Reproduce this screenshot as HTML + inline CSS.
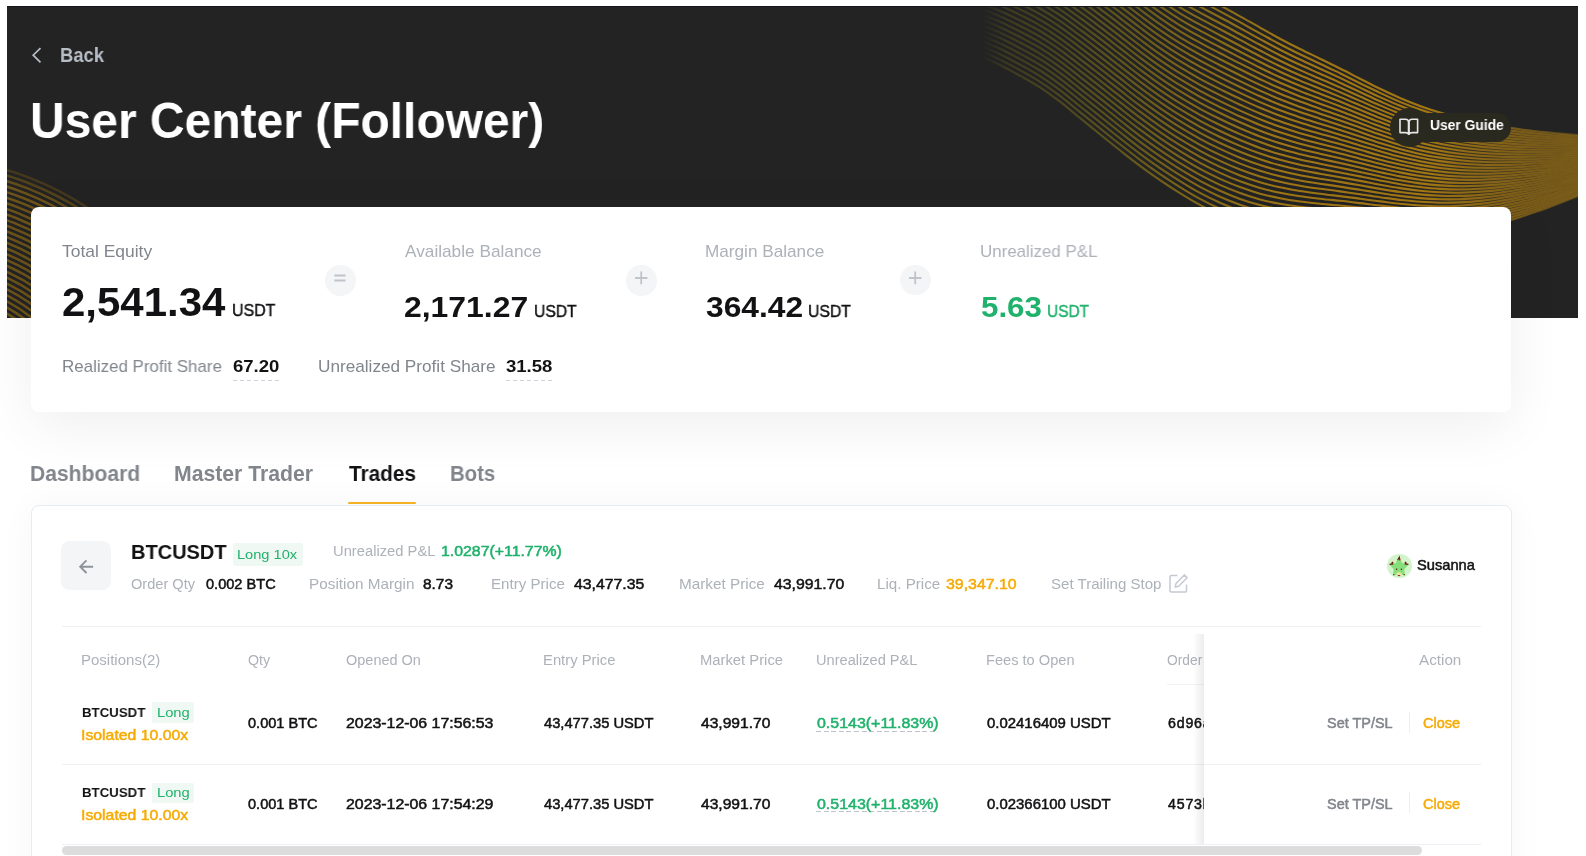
<!DOCTYPE html>
<html lang="en"><head><meta charset="utf-8"><title>User Center (Follower)</title>
<style>
html,body{margin:0;padding:0;background:#fff;}
body{width:1586px;height:856px;overflow:hidden;position:relative;font-family:"Liberation Sans",Arial,sans-serif;}
.t{position:absolute;line-height:1;white-space:nowrap;transform-origin:0 0;z-index:3;will-change:transform;}
.abs{position:absolute;}
#hdr{left:7px;top:6px;width:1571px;height:312px;background:#232323;overflow:hidden;}
#hdr .edge{position:absolute;left:0;top:0;width:100%;height:1px;background:#16161d;}
.card{position:absolute;left:31px;width:1480px;background:#fff;border-radius:8px;}
#card1{top:207px;height:205px;box-shadow:0 14px 56px rgba(0,0,0,0.065);}
#card2{top:505.2px;height:420px;width:1481px;box-shadow:0 0 36px rgba(0,0,0,0.04);border:1px solid #e7ebf2;border-top:1.6px solid #e7ebf2;box-sizing:border-box;}
.op{position:absolute;width:30.5px;height:30.5px;border-radius:50%;background:#f4f5f7;z-index:3;}
.op svg{position:absolute;left:0;top:0;}
.dash{position:absolute;height:1px;background:repeating-linear-gradient(90deg,#cfd4dc 0 4px,transparent 4px 7px);z-index:3;}
.tag{position:absolute;background:#eff8f2;border-radius:2px;z-index:2;}
.hl{position:absolute;height:1px;background:#eef0f4;z-index:2;}
</style></head><body>
<div id="hdr" class="abs">
<svg width="1571" height="312" viewBox="0 0 1571 312" style="position:absolute;left:0;top:0">
<defs>
<linearGradient id="rg" gradientUnits="userSpaceOnUse" x1="975" y1="0" x2="1571" y2="0">
<stop offset="0" stop-color="#6f6a1c" stop-opacity="0"/>
<stop offset="0.04" stop-color="#736c1b" stop-opacity="0.32"/>
<stop offset="0.2" stop-color="#857619" stop-opacity="0.55"/>
<stop offset="0.35" stop-color="#9a7a16" stop-opacity="0.78"/>
<stop offset="0.5" stop-color="#a87c14" stop-opacity="0.92"/>
<stop offset="0.75" stop-color="#b07f12" stop-opacity="0.9"/>
<stop offset="0.9" stop-color="#a07515" stop-opacity="0.62"/>
<stop offset="1" stop-color="#9a7215" stop-opacity="0.45"/>
</linearGradient>
<linearGradient id="rf" gradientUnits="userSpaceOnUse" x1="1380" y1="0" x2="1571" y2="0">
<stop offset="0" stop-color="#7a5c18" stop-opacity="0"/>
<stop offset="1" stop-color="#7a5c18" stop-opacity="0.55"/>
</linearGradient>
</defs>
<path d="M1373 82.8 L1378 85.2 L1383 87.5 L1388 89.8 L1393 92.0 L1398 94.1 L1403 96.1 L1408 98.1 L1413 99.9 L1418 101.7 L1423 103.4 L1428 105.0 L1433 106.5 L1438 108.0 L1443 109.4 L1448 110.7 L1453 112.0 L1458 113.2 L1463 114.4 L1468 115.5 L1473 116.5 L1478 117.5 L1483 118.5 L1488 119.4 L1493 120.3 L1498 121.1 L1503 121.8 L1508 122.6 L1513 123.3 L1518 123.9 L1523 124.6 L1528 125.2 L1533 125.7 L1538 126.2 L1543 126.7 L1548 127.2 L1553 127.6 L1558 128.1 L1563 128.4 L1568 128.8 L1573 129.1 L1578 129.4 L1583 129.7 L1588 130.0 L1588 183.1 L1583 185.1 L1578 187.2 L1573 189.2 L1568 191.2 L1563 193.2 L1558 195.2 L1553 197.1 L1548 199.0 L1543 200.9 L1538 202.7 L1533 204.5 L1528 206.2 L1523 208.0 L1518 209.6 L1513 211.2 L1508 212.8 L1503 214.3 L1498 215.7 L1493 217.1 L1488 218.4 L1483 219.7 L1478 220.9 L1473 222.0 L1468 223.0 L1463 224.0 L1458 224.9 L1453 225.7 L1448 226.4 L1443 227.0 L1438 227.5 L1433 228.0 L1428 228.3 L1423 228.6 L1418 228.8 L1413 229.0 L1408 229.1 L1403 229.1 L1398 229.2 L1393 229.1 L1388 229.1 L1383 229.0 L1378 228.9 L1373 228.7Z" fill="url(#rf)" stroke="none"/>
<g fill="none" stroke="url(#rg)" stroke-width="2.1">
<path d="M933.0 -139.1C936.3 -138.8 946.3 -138.1 953.0 -137.3C959.7 -136.5 966.3 -135.6 973.0 -134.4C979.7 -133.1 986.3 -131.7 993.0 -130.0C999.7 -128.3 1006.3 -126.2 1013.0 -123.9C1019.7 -121.5 1026.3 -118.9 1033.0 -115.9C1039.7 -112.9 1046.3 -109.6 1053.0 -106.0C1059.7 -102.4 1066.3 -98.4 1073.0 -94.1C1079.7 -89.9 1086.3 -85.4 1093.0 -80.7C1099.7 -76.0 1106.3 -71.0 1113.0 -66.0C1119.7 -61.0 1126.3 -55.7 1133.0 -50.7C1139.7 -45.7 1146.3 -40.5 1153.0 -35.8C1159.7 -31.2 1166.3 -26.8 1173.0 -22.7C1179.7 -18.6 1186.3 -15.0 1193.0 -11.4C1199.7 -7.7 1206.3 -4.3 1213.0 -0.7C1219.7 2.9 1226.3 6.6 1233.0 10.3C1239.7 14.0 1246.3 17.9 1253.0 21.6C1259.7 25.4 1266.3 29.2 1273.0 32.7C1279.7 36.3 1286.3 39.7 1293.0 43.0C1299.7 46.4 1306.3 49.4 1313.0 52.7C1319.7 55.9 1326.3 59.2 1333.0 62.5C1339.7 65.8 1346.3 69.3 1353.0 72.7C1359.7 76.1 1366.3 79.6 1373.0 82.8C1379.7 86.0 1386.3 89.1 1393.0 92.0C1399.7 94.9 1406.3 97.5 1413.0 99.9C1419.7 102.3 1426.3 104.5 1433.0 106.5C1439.7 108.5 1446.3 110.3 1453.0 112.0C1459.7 113.7 1466.3 115.2 1473.0 116.5C1479.7 117.9 1486.3 119.1 1493.0 120.3C1499.7 121.4 1506.3 122.4 1513.0 123.3C1519.7 124.2 1526.3 125.0 1533.0 125.7C1539.7 126.4 1546.3 127.1 1553.0 127.6C1559.7 128.2 1566.3 128.7 1573.0 129.1C1579.7 129.6 1586.3 129.9 1593.0 130.3C1599.7 130.6 1606.3 130.9 1613.0 131.2C1619.7 131.5 1629.7 131.9 1633.0 132.0"/>
<path d="M933.0 -134.0C936.3 -133.7 946.3 -132.9 953.0 -132.1C959.7 -131.3 966.3 -130.3 973.0 -129.1C979.7 -127.8 986.3 -126.4 993.0 -124.6C999.7 -122.8 1006.3 -120.7 1013.0 -118.4C1019.7 -116.0 1026.3 -113.3 1033.0 -110.3C1039.7 -107.3 1046.3 -103.9 1053.0 -100.2C1059.7 -96.6 1066.3 -92.5 1073.0 -88.3C1079.7 -84.0 1086.3 -79.4 1093.0 -74.7C1099.7 -70.0 1106.3 -65.0 1113.0 -60.0C1119.7 -55.0 1126.3 -49.7 1133.0 -44.7C1139.7 -39.6 1146.3 -34.5 1153.0 -29.8C1159.7 -25.2 1166.3 -20.8 1173.0 -16.7C1179.7 -12.6 1186.3 -9.0 1193.0 -5.4C1199.7 -1.7 1206.3 1.7 1213.0 5.3C1219.7 8.9 1226.3 12.5 1233.0 16.2C1239.7 19.9 1246.3 23.7 1253.0 27.4C1259.7 31.0 1266.3 34.7 1273.0 38.2C1279.7 41.7 1286.3 45.0 1293.0 48.3C1299.7 51.5 1306.3 54.5 1313.0 57.7C1319.7 60.8 1326.3 64.0 1333.0 67.2C1339.7 70.5 1346.3 73.9 1353.0 77.2C1359.7 80.4 1366.3 83.8 1373.0 86.9C1379.7 90.1 1386.3 93.1 1393.0 95.9C1399.7 98.7 1406.3 101.2 1413.0 103.6C1419.7 105.9 1426.3 108.0 1433.0 110.0C1439.7 111.9 1446.3 113.7 1453.0 115.2C1459.7 116.8 1466.3 118.3 1473.0 119.6C1479.7 120.8 1486.3 122.0 1493.0 123.0C1499.7 124.1 1506.3 125.0 1513.0 125.8C1519.7 126.6 1526.3 127.3 1533.0 128.0C1539.7 128.6 1546.3 129.1 1553.0 129.6C1559.7 130.1 1566.3 130.5 1573.0 130.8C1579.7 131.2 1586.3 131.5 1593.0 131.7C1599.7 132.0 1606.3 132.2 1613.0 132.4C1619.7 132.6 1629.7 132.8 1633.0 132.9"/>
<path d="M933.0 -129.0C936.3 -128.6 946.3 -127.8 953.0 -127.0C959.7 -126.1 966.3 -125.1 973.0 -123.8C979.7 -122.5 986.3 -121.0 993.0 -119.2C999.7 -117.4 1006.3 -115.3 1013.0 -112.8C1019.7 -110.4 1026.3 -107.7 1033.0 -104.6C1039.7 -101.6 1046.3 -98.2 1053.0 -94.5C1059.7 -90.8 1066.3 -86.7 1073.0 -82.4C1079.7 -78.1 1086.3 -73.5 1093.0 -68.7C1099.7 -64.0 1106.3 -59.0 1113.0 -54.0C1119.7 -49.0 1126.3 -43.7 1133.0 -38.6C1139.7 -33.6 1146.3 -28.5 1153.0 -23.8C1159.7 -19.2 1166.3 -14.8 1173.0 -10.7C1179.7 -6.6 1186.3 -3.0 1193.0 0.7C1199.7 4.3 1206.3 7.7 1213.0 11.3C1219.7 14.8 1226.3 18.5 1233.0 22.1C1239.7 25.7 1246.3 29.5 1253.0 33.1C1259.7 36.7 1266.3 40.3 1273.0 43.7C1279.7 47.1 1286.3 50.4 1293.0 53.5C1299.7 56.7 1306.3 59.6 1313.0 62.7C1319.7 65.8 1326.3 68.8 1333.0 71.9C1339.7 75.1 1346.3 78.4 1353.0 81.6C1359.7 84.8 1366.3 88.1 1373.0 91.1C1379.7 94.1 1386.3 97.1 1393.0 99.8C1399.7 102.5 1406.3 105.0 1413.0 107.3C1419.7 109.5 1426.3 111.6 1433.0 113.5C1439.7 115.3 1446.3 117.0 1453.0 118.5C1459.7 120.0 1466.3 121.3 1473.0 122.6C1479.7 123.8 1486.3 124.8 1493.0 125.8C1499.7 126.8 1506.3 127.6 1513.0 128.3C1519.7 129.0 1526.3 129.7 1533.0 130.2C1539.7 130.8 1546.3 131.2 1553.0 131.6C1559.7 132.0 1566.3 132.3 1573.0 132.6C1579.7 132.8 1586.3 133.0 1593.0 133.2C1599.7 133.3 1606.3 133.5 1613.0 133.6C1619.7 133.7 1629.7 133.8 1633.0 133.8"/>
<path d="M933.0 -123.9C936.3 -123.6 946.3 -122.7 953.0 -121.8C959.7 -120.9 966.3 -119.9 973.0 -118.6C979.7 -117.2 986.3 -115.7 993.0 -113.8C999.7 -111.9 1006.3 -109.8 1013.0 -107.3C1019.7 -104.8 1026.3 -102.1 1033.0 -99.0C1039.7 -95.9 1046.3 -92.5 1053.0 -88.7C1059.7 -85.0 1066.3 -80.8 1073.0 -76.5C1079.7 -72.1 1086.3 -67.5 1093.0 -62.8C1099.7 -58.0 1106.3 -53.0 1113.0 -48.0C1119.7 -43.0 1126.3 -37.7 1133.0 -32.6C1139.7 -27.6 1146.3 -22.5 1153.0 -17.8C1159.7 -13.2 1166.3 -8.8 1173.0 -4.7C1179.7 -0.6 1186.3 3.0 1193.0 6.7C1199.7 10.3 1206.3 13.7 1213.0 17.3C1219.7 20.8 1226.3 24.4 1233.0 28.0C1239.7 31.6 1246.3 35.3 1253.0 38.8C1259.7 42.4 1266.3 45.9 1273.0 49.2C1279.7 52.6 1286.3 55.7 1293.0 58.8C1299.7 61.9 1306.3 64.7 1313.0 67.7C1319.7 70.7 1326.3 73.6 1333.0 76.7C1339.7 79.7 1346.3 82.9 1353.0 86.0C1359.7 89.1 1366.3 92.3 1373.0 95.3C1379.7 98.2 1386.3 101.1 1393.0 103.8C1399.7 106.4 1406.3 108.8 1413.0 111.0C1419.7 113.2 1426.3 115.1 1433.0 116.9C1439.7 118.7 1446.3 120.3 1453.0 121.7C1459.7 123.2 1466.3 124.4 1473.0 125.6C1479.7 126.7 1486.3 127.7 1493.0 128.6C1499.7 129.4 1506.3 130.2 1513.0 130.8C1519.7 131.5 1526.3 132.0 1533.0 132.5C1539.7 132.9 1546.3 133.3 1553.0 133.6C1559.7 133.9 1566.3 134.1 1573.0 134.3C1579.7 134.5 1586.3 134.5 1593.0 134.6C1599.7 134.7 1606.3 134.7 1613.0 134.7C1619.7 134.8 1629.7 134.7 1633.0 134.7"/>
<path d="M933.0 -118.8C936.3 -118.5 946.3 -117.6 953.0 -116.6C959.7 -115.7 966.3 -114.7 973.0 -113.3C979.7 -111.9 986.3 -110.3 993.0 -108.4C999.7 -106.5 1006.3 -104.3 1013.0 -101.8C1019.7 -99.3 1026.3 -96.5 1033.0 -93.4C1039.7 -90.2 1046.3 -86.8 1053.0 -83.0C1059.7 -79.2 1066.3 -74.9 1073.0 -70.6C1079.7 -66.2 1086.3 -61.6 1093.0 -56.8C1099.7 -52.0 1106.3 -47.0 1113.0 -42.0C1119.7 -36.9 1126.3 -31.6 1133.0 -26.6C1139.7 -21.6 1146.3 -16.5 1153.0 -11.9C1159.7 -7.2 1166.3 -2.8 1173.0 1.3C1179.7 5.4 1186.3 9.0 1193.0 12.7C1199.7 16.3 1206.3 19.7 1213.0 23.2C1219.7 26.8 1226.3 30.3 1233.0 33.9C1239.7 37.4 1246.3 41.1 1253.0 44.5C1259.7 48.0 1266.3 51.5 1273.0 54.7C1279.7 58.0 1286.3 61.1 1293.0 64.1C1299.7 67.1 1306.3 69.8 1313.0 72.7C1319.7 75.6 1326.3 78.4 1333.0 81.4C1339.7 84.4 1346.3 87.5 1353.0 90.5C1359.7 93.5 1366.3 96.6 1373.0 99.4C1379.7 102.3 1386.3 105.1 1393.0 107.7C1399.7 110.2 1406.3 112.5 1413.0 114.7C1419.7 116.8 1426.3 118.7 1433.0 120.4C1439.7 122.1 1446.3 123.6 1453.0 125.0C1459.7 126.4 1466.3 127.5 1473.0 128.6C1479.7 129.6 1486.3 130.5 1493.0 131.3C1499.7 132.1 1506.3 132.8 1513.0 133.3C1519.7 133.9 1526.3 134.3 1533.0 134.7C1539.7 135.1 1546.3 135.4 1553.0 135.6C1559.7 135.8 1566.3 135.9 1573.0 136.0C1579.7 136.1 1586.3 136.1 1593.0 136.1C1599.7 136.1 1606.3 136.0 1613.0 135.9C1619.7 135.9 1629.7 135.7 1633.0 135.7"/>
<path d="M933.0 -113.8C936.3 -113.4 946.3 -112.4 953.0 -111.5C959.7 -110.5 966.3 -109.4 973.0 -108.0C979.7 -106.6 986.3 -105.0 993.0 -103.0C999.7 -101.0 1006.3 -98.8 1013.0 -96.2C1019.7 -93.7 1026.3 -90.9 1033.0 -87.7C1039.7 -84.6 1046.3 -81.0 1053.0 -77.2C1059.7 -73.4 1066.3 -69.1 1073.0 -64.7C1079.7 -60.3 1086.3 -55.6 1093.0 -50.8C1099.7 -46.0 1106.3 -41.0 1113.0 -36.0C1119.7 -30.9 1126.3 -25.6 1133.0 -20.6C1139.7 -15.6 1146.3 -10.5 1153.0 -5.9C1159.7 -1.2 1166.3 3.2 1173.0 7.3C1179.7 11.4 1186.3 15.0 1193.0 18.7C1199.7 22.3 1206.3 25.7 1213.0 29.2C1219.7 32.7 1226.3 36.3 1233.0 39.8C1239.7 43.3 1246.3 46.9 1253.0 50.3C1259.7 53.7 1266.3 57.1 1273.0 60.2C1279.7 63.4 1286.3 66.4 1293.0 69.3C1299.7 72.2 1306.3 74.9 1313.0 77.7C1319.7 80.5 1326.3 83.3 1333.0 86.1C1339.7 89.0 1346.3 92.0 1353.0 94.9C1359.7 97.8 1366.3 100.8 1373.0 103.6C1379.7 106.4 1386.3 109.1 1393.0 111.6C1399.7 114.0 1406.3 116.3 1413.0 118.3C1419.7 120.4 1426.3 122.2 1433.0 123.9C1439.7 125.5 1446.3 126.9 1453.0 128.2C1459.7 129.5 1466.3 130.6 1473.0 131.6C1479.7 132.6 1486.3 133.4 1493.0 134.1C1499.7 134.8 1506.3 135.4 1513.0 135.8C1519.7 136.3 1526.3 136.7 1533.0 137.0C1539.7 137.3 1546.3 137.4 1553.0 137.6C1559.7 137.7 1566.3 137.7 1573.0 137.7C1579.7 137.7 1586.3 137.6 1593.0 137.5C1599.7 137.4 1606.3 137.3 1613.0 137.1C1619.7 136.9 1629.7 136.7 1633.0 136.6"/>
<path d="M933.0 -108.7C936.3 -108.3 946.3 -107.3 953.0 -106.3C959.7 -105.3 966.3 -104.2 973.0 -102.8C979.7 -101.3 986.3 -99.6 993.0 -97.6C999.7 -95.6 1006.3 -93.3 1013.0 -90.7C1019.7 -88.1 1026.3 -85.3 1033.0 -82.1C1039.7 -78.9 1046.3 -75.3 1053.0 -71.4C1059.7 -67.5 1066.3 -63.2 1073.0 -58.8C1079.7 -54.4 1086.3 -49.7 1093.0 -44.9C1099.7 -40.1 1106.3 -35.0 1113.0 -29.9C1119.7 -24.9 1126.3 -19.6 1133.0 -14.6C1139.7 -9.6 1146.3 -4.5 1153.0 0.1C1159.7 4.8 1166.3 9.2 1173.0 13.3C1179.7 17.4 1186.3 21.0 1193.0 24.7C1199.7 28.3 1206.3 31.7 1213.0 35.2C1219.7 38.7 1226.3 42.2 1233.0 45.7C1239.7 49.1 1246.3 52.6 1253.0 56.0C1259.7 59.3 1266.3 62.7 1273.0 65.7C1279.7 68.8 1286.3 71.8 1293.0 74.6C1299.7 77.4 1306.3 80.0 1313.0 82.7C1319.7 85.4 1326.3 88.1 1333.0 90.9C1339.7 93.6 1346.3 96.5 1353.0 99.4C1359.7 102.2 1366.3 105.1 1373.0 107.8C1379.7 110.5 1386.3 113.1 1393.0 115.5C1399.7 117.9 1406.3 120.1 1413.0 122.0C1419.7 124.0 1426.3 125.8 1433.0 127.3C1439.7 128.9 1446.3 130.3 1453.0 131.5C1459.7 132.7 1466.3 133.7 1473.0 134.6C1479.7 135.5 1486.3 136.2 1493.0 136.9C1499.7 137.5 1506.3 138.0 1513.0 138.4C1519.7 138.8 1526.3 139.0 1533.0 139.2C1539.7 139.4 1546.3 139.5 1553.0 139.5C1559.7 139.6 1566.3 139.5 1573.0 139.4C1579.7 139.3 1586.3 139.2 1593.0 139.0C1599.7 138.8 1606.3 138.5 1613.0 138.3C1619.7 138.0 1629.7 137.6 1633.0 137.5"/>
<path d="M933.0 -103.6C936.3 -103.2 946.3 -102.2 953.0 -101.1C959.7 -100.1 966.3 -99.0 973.0 -97.5C979.7 -96.0 986.3 -94.3 993.0 -92.2C999.7 -90.2 1006.3 -87.8 1013.0 -85.2C1019.7 -82.5 1026.3 -79.7 1033.0 -76.5C1039.7 -73.2 1046.3 -69.6 1053.0 -65.7C1059.7 -61.7 1066.3 -57.4 1073.0 -52.9C1079.7 -48.5 1086.3 -43.7 1093.0 -38.9C1099.7 -34.1 1106.3 -29.0 1113.0 -23.9C1119.7 -18.9 1126.3 -13.6 1133.0 -8.6C1139.7 -3.6 1146.3 1.5 1153.0 6.1C1159.7 10.8 1166.3 15.2 1173.0 19.3C1179.7 23.4 1186.3 27.0 1193.0 30.7C1199.7 34.4 1206.3 37.7 1213.0 41.2C1219.7 44.7 1226.3 48.1 1233.0 51.6C1239.7 55.0 1246.3 58.4 1253.0 61.7C1259.7 65.0 1266.3 68.2 1273.0 71.3C1279.7 74.3 1286.3 77.1 1293.0 79.8C1299.7 82.6 1306.3 85.1 1313.0 87.7C1319.7 90.3 1326.3 92.9 1333.0 95.6C1339.7 98.3 1346.3 101.1 1353.0 103.8C1359.7 106.5 1366.3 109.4 1373.0 112.0C1379.7 114.6 1386.3 117.1 1393.0 119.4C1399.7 121.7 1406.3 123.8 1413.0 125.7C1419.7 127.6 1426.3 129.3 1433.0 130.8C1439.7 132.3 1446.3 133.6 1453.0 134.7C1459.7 135.9 1466.3 136.8 1473.0 137.6C1479.7 138.4 1486.3 139.1 1493.0 139.6C1499.7 140.2 1506.3 140.6 1513.0 140.9C1519.7 141.2 1526.3 141.4 1533.0 141.5C1539.7 141.6 1546.3 141.6 1553.0 141.5C1559.7 141.5 1566.3 141.3 1573.0 141.1C1579.7 141.0 1586.3 140.7 1593.0 140.4C1599.7 140.1 1606.3 139.8 1613.0 139.5C1619.7 139.1 1629.7 138.6 1633.0 138.4"/>
<path d="M933.0 -98.6C936.3 -98.1 946.3 -97.0 953.0 -96.0C959.7 -94.9 966.3 -93.7 973.0 -92.2C979.7 -90.7 986.3 -88.9 993.0 -86.8C999.7 -84.7 1006.3 -82.3 1013.0 -79.6C1019.7 -77.0 1026.3 -74.1 1033.0 -70.8C1039.7 -67.5 1046.3 -63.9 1053.0 -59.9C1059.7 -55.9 1066.3 -51.5 1073.0 -47.0C1079.7 -42.5 1086.3 -37.8 1093.0 -32.9C1099.7 -28.1 1106.3 -23.0 1113.0 -17.9C1119.7 -12.9 1126.3 -7.6 1133.0 -2.6C1139.7 2.4 1146.3 7.5 1153.0 12.1C1159.7 16.8 1166.3 21.2 1173.0 25.3C1179.7 29.3 1186.3 33.0 1193.0 36.7C1199.7 40.4 1206.3 43.7 1213.0 47.2C1219.7 50.6 1226.3 54.1 1233.0 57.4C1239.7 60.8 1246.3 64.2 1253.0 67.4C1259.7 70.7 1266.3 73.8 1273.0 76.8C1279.7 79.7 1286.3 82.4 1293.0 85.1C1299.7 87.8 1306.3 90.2 1313.0 92.7C1319.7 95.2 1326.3 97.7 1333.0 100.3C1339.7 102.9 1346.3 105.6 1353.0 108.3C1359.7 110.9 1366.3 113.6 1373.0 116.1C1379.7 118.6 1386.3 121.1 1393.0 123.3C1399.7 125.6 1406.3 127.6 1413.0 129.4C1419.7 131.2 1426.3 132.8 1433.0 134.3C1439.7 135.7 1446.3 136.9 1453.0 138.0C1459.7 139.0 1466.3 139.9 1473.0 140.6C1479.7 141.4 1486.3 141.9 1493.0 142.4C1499.7 142.9 1506.3 143.2 1513.0 143.4C1519.7 143.6 1526.3 143.7 1533.0 143.7C1539.7 143.7 1546.3 143.7 1553.0 143.5C1559.7 143.4 1566.3 143.1 1573.0 142.9C1579.7 142.6 1586.3 142.2 1593.0 141.9C1599.7 141.5 1606.3 141.1 1613.0 140.6C1619.7 140.2 1629.7 139.5 1633.0 139.3"/>
<path d="M933.0 -93.5C936.3 -93.1 946.3 -91.9 953.0 -90.8C959.7 -89.7 966.3 -88.5 973.0 -87.0C979.7 -85.4 986.3 -83.5 993.0 -81.4C999.7 -79.3 1006.3 -76.8 1013.0 -74.1C1019.7 -71.4 1026.3 -68.5 1033.0 -65.2C1039.7 -61.9 1046.3 -58.2 1053.0 -54.1C1059.7 -50.1 1066.3 -45.7 1073.0 -41.1C1079.7 -36.6 1086.3 -31.8 1093.0 -27.0C1099.7 -22.1 1106.3 -17.0 1113.0 -11.9C1119.7 -6.9 1126.3 -1.6 1133.0 3.5C1139.7 8.5 1146.3 13.5 1153.0 18.1C1159.7 22.8 1166.3 27.2 1173.0 31.3C1179.7 35.3 1186.3 39.1 1193.0 42.7C1199.7 46.4 1206.3 49.7 1213.0 53.2C1219.7 56.6 1226.3 60.0 1233.0 63.3C1239.7 66.7 1246.3 70.0 1253.0 73.2C1259.7 76.3 1266.3 79.4 1273.0 82.3C1279.7 85.1 1286.3 87.8 1293.0 90.4C1299.7 92.9 1306.3 95.2 1313.0 97.7C1319.7 100.1 1326.3 102.5 1333.0 105.0C1339.7 107.5 1346.3 110.2 1353.0 112.7C1359.7 115.2 1366.3 117.9 1373.0 120.3C1379.7 122.7 1386.3 125.1 1393.0 127.3C1399.7 129.4 1406.3 131.3 1413.0 133.1C1419.7 134.8 1426.3 136.4 1433.0 137.7C1439.7 139.1 1446.3 140.2 1453.0 141.2C1459.7 142.2 1466.3 143.0 1473.0 143.7C1479.7 144.3 1486.3 144.8 1493.0 145.2C1499.7 145.5 1506.3 145.8 1513.0 145.9C1519.7 146.0 1526.3 146.0 1533.0 146.0C1539.7 145.9 1546.3 145.7 1553.0 145.5C1559.7 145.3 1566.3 144.9 1573.0 144.6C1579.7 144.2 1586.3 143.8 1593.0 143.3C1599.7 142.9 1606.3 142.3 1613.0 141.8C1619.7 141.3 1629.7 140.5 1633.0 140.2"/>
<path d="M933.0 -88.4C936.3 -88.0 946.3 -86.8 953.0 -85.7C959.7 -84.5 966.3 -83.3 973.0 -81.7C979.7 -80.1 986.3 -78.2 993.0 -76.0C999.7 -73.8 1006.3 -71.3 1013.0 -68.6C1019.7 -65.8 1026.3 -62.9 1033.0 -59.5C1039.7 -56.2 1046.3 -52.4 1053.0 -48.4C1059.7 -44.3 1066.3 -39.8 1073.0 -35.2C1079.7 -30.7 1086.3 -25.9 1093.0 -21.0C1099.7 -16.1 1106.3 -11.0 1113.0 -5.9C1119.7 -0.8 1126.3 4.5 1133.0 9.5C1139.7 14.5 1146.3 19.5 1153.0 24.1C1159.7 28.8 1166.3 33.1 1173.0 37.2C1179.7 41.3 1186.3 45.1 1193.0 48.7C1199.7 52.4 1206.3 55.7 1213.0 59.2C1219.7 62.6 1226.3 65.9 1233.0 69.2C1239.7 72.5 1246.3 75.8 1253.0 78.9C1259.7 82.0 1266.3 85.0 1273.0 87.8C1279.7 90.6 1286.3 93.1 1293.0 95.6C1299.7 98.1 1306.3 100.3 1313.0 102.7C1319.7 105.1 1326.3 107.3 1333.0 109.8C1339.7 112.2 1346.3 114.7 1353.0 117.1C1359.7 119.6 1366.3 122.1 1373.0 124.5C1379.7 126.8 1386.3 129.1 1393.0 131.2C1399.7 133.2 1406.3 135.1 1413.0 136.8C1419.7 138.5 1426.3 139.9 1433.0 141.2C1439.7 142.5 1446.3 143.6 1453.0 144.5C1459.7 145.4 1466.3 146.1 1473.0 146.7C1479.7 147.2 1486.3 147.6 1493.0 147.9C1499.7 148.2 1506.3 148.4 1513.0 148.4C1519.7 148.5 1526.3 148.4 1533.0 148.2C1539.7 148.1 1546.3 147.8 1553.0 147.5C1559.7 147.2 1566.3 146.7 1573.0 146.3C1579.7 145.8 1586.3 145.3 1593.0 144.8C1599.7 144.2 1606.3 143.6 1613.0 143.0C1619.7 142.4 1629.7 141.5 1633.0 141.1"/>
<path d="M933.0 -83.4C936.3 -82.9 946.3 -81.7 953.0 -80.5C959.7 -79.3 966.3 -78.1 973.0 -76.4C979.7 -74.8 986.3 -72.8 993.0 -70.6C999.7 -68.4 1006.3 -65.8 1013.0 -63.0C1019.7 -60.3 1026.3 -57.3 1033.0 -53.9C1039.7 -50.5 1046.3 -46.7 1053.0 -42.6C1059.7 -38.5 1066.3 -34.0 1073.0 -29.4C1079.7 -24.8 1086.3 -19.9 1093.0 -15.0C1099.7 -10.1 1106.3 -5.0 1113.0 0.1C1119.7 5.2 1126.3 10.5 1133.0 15.5C1139.7 20.5 1146.3 25.5 1153.0 30.1C1159.7 34.8 1166.3 39.1 1173.0 43.2C1179.7 47.3 1186.3 51.1 1193.0 54.7C1199.7 58.4 1206.3 61.7 1213.0 65.1C1219.7 68.5 1226.3 71.9 1233.0 75.1C1239.7 78.4 1246.3 81.6 1253.0 84.6C1259.7 87.6 1266.3 90.6 1273.0 93.3C1279.7 96.0 1286.3 98.5 1293.0 100.9C1299.7 103.3 1306.3 105.4 1313.0 107.7C1319.7 110.0 1326.3 112.2 1333.0 114.5C1339.7 116.8 1346.3 119.2 1353.0 121.6C1359.7 123.9 1366.3 126.4 1373.0 128.6C1379.7 130.9 1386.3 133.1 1393.0 135.1C1399.7 137.1 1406.3 138.9 1413.0 140.5C1419.7 142.1 1426.3 143.5 1433.0 144.7C1439.7 145.9 1446.3 146.9 1453.0 147.7C1459.7 148.6 1466.3 149.2 1473.0 149.7C1479.7 150.2 1486.3 150.5 1493.0 150.7C1499.7 150.9 1506.3 151.0 1513.0 150.9C1519.7 150.9 1526.3 150.7 1533.0 150.5C1539.7 150.2 1546.3 149.9 1553.0 149.5C1559.7 149.1 1566.3 148.6 1573.0 148.0C1579.7 147.5 1586.3 146.8 1593.0 146.2C1599.7 145.6 1606.3 144.9 1613.0 144.2C1619.7 143.5 1629.7 142.4 1633.0 142.1"/>
<path d="M933.0 -78.3C936.3 -77.8 946.3 -76.5 953.0 -75.3C959.7 -74.1 966.3 -72.8 973.0 -71.2C979.7 -69.5 986.3 -67.5 993.0 -65.2C999.7 -62.9 1006.3 -60.3 1013.0 -57.5C1019.7 -54.7 1026.3 -51.7 1033.0 -48.3C1039.7 -44.8 1046.3 -41.0 1053.0 -36.9C1059.7 -32.7 1066.3 -28.1 1073.0 -23.5C1079.7 -18.8 1086.3 -14.0 1093.0 -9.1C1099.7 -4.1 1106.3 1.0 1113.0 6.1C1119.7 11.2 1126.3 16.5 1133.0 21.5C1139.7 26.5 1146.3 31.5 1153.0 36.1C1159.7 40.8 1166.3 45.1 1173.0 49.2C1179.7 53.3 1186.3 57.1 1193.0 60.7C1199.7 64.4 1206.3 67.7 1213.0 71.1C1219.7 74.5 1226.3 77.8 1233.0 81.0C1239.7 84.2 1246.3 87.4 1253.0 90.3C1259.7 93.3 1266.3 96.1 1273.0 98.8C1279.7 101.4 1286.3 103.8 1293.0 106.1C1299.7 108.4 1306.3 110.5 1313.0 112.7C1319.7 114.9 1326.3 117.0 1333.0 119.2C1339.7 121.4 1346.3 123.8 1353.0 126.0C1359.7 128.3 1366.3 130.6 1373.0 132.8C1379.7 135.0 1386.3 137.1 1393.0 139.0C1399.7 140.9 1406.3 142.6 1413.0 144.2C1419.7 145.7 1426.3 147.0 1433.0 148.2C1439.7 149.3 1446.3 150.2 1453.0 151.0C1459.7 151.7 1466.3 152.3 1473.0 152.7C1479.7 153.1 1486.3 153.3 1493.0 153.5C1499.7 153.6 1506.3 153.6 1513.0 153.4C1519.7 153.3 1526.3 153.1 1533.0 152.7C1539.7 152.4 1546.3 152.0 1553.0 151.5C1559.7 151.0 1566.3 150.4 1573.0 149.7C1579.7 149.1 1586.3 148.4 1593.0 147.7C1599.7 146.9 1606.3 146.2 1613.0 145.4C1619.7 144.6 1629.7 143.4 1633.0 143.0"/>
<path d="M933.0 -73.2C936.3 -72.7 946.3 -71.4 953.0 -70.2C959.7 -69.0 966.3 -67.6 973.0 -65.9C979.7 -64.2 986.3 -62.1 993.0 -59.8C999.7 -57.5 1006.3 -54.8 1013.0 -52.0C1019.7 -49.1 1026.3 -46.1 1033.0 -42.6C1039.7 -39.1 1046.3 -35.3 1053.0 -31.1C1059.7 -26.9 1066.3 -22.2 1073.0 -17.6C1079.7 -12.9 1086.3 -8.1 1093.0 -3.1C1099.7 1.8 1106.3 7.0 1113.0 12.1C1119.7 17.2 1126.3 22.5 1133.0 27.5C1139.7 32.5 1146.3 37.5 1153.0 42.1C1159.7 46.7 1166.3 51.1 1173.0 55.2C1179.7 59.3 1186.3 63.1 1193.0 66.7C1199.7 70.4 1206.3 73.8 1213.0 77.1C1219.7 80.5 1226.3 83.7 1233.0 86.9C1239.7 90.1 1246.3 93.2 1253.0 96.1C1259.7 99.0 1266.3 101.7 1273.0 104.3C1279.7 106.8 1286.3 109.1 1293.0 111.4C1299.7 113.6 1306.3 115.6 1313.0 117.7C1319.7 119.8 1326.3 121.8 1333.0 123.9C1339.7 126.1 1346.3 128.3 1353.0 130.5C1359.7 132.6 1366.3 134.9 1373.0 137.0C1379.7 139.1 1386.3 141.1 1393.0 142.9C1399.7 144.7 1406.3 146.4 1413.0 147.9C1419.7 149.3 1426.3 150.6 1433.0 151.6C1439.7 152.7 1446.3 153.5 1453.0 154.2C1459.7 154.9 1466.3 155.4 1473.0 155.7C1479.7 156.0 1486.3 156.2 1493.0 156.2C1499.7 156.3 1506.3 156.2 1513.0 155.9C1519.7 155.7 1526.3 155.4 1533.0 155.0C1539.7 154.6 1546.3 154.0 1553.0 153.4C1559.7 152.8 1566.3 152.2 1573.0 151.4C1579.7 150.7 1586.3 149.9 1593.0 149.1C1599.7 148.3 1606.3 147.4 1613.0 146.6C1619.7 145.7 1629.7 144.3 1633.0 143.9"/>
<path d="M933.0 -68.2C936.3 -67.6 946.3 -66.3 953.0 -65.0C959.7 -63.8 966.3 -62.4 973.0 -60.6C979.7 -58.9 986.3 -56.8 993.0 -54.4C999.7 -52.0 1006.3 -49.3 1013.0 -46.4C1019.7 -43.5 1026.3 -40.5 1033.0 -37.0C1039.7 -33.5 1046.3 -29.6 1053.0 -25.3C1059.7 -21.1 1066.3 -16.4 1073.0 -11.7C1079.7 -7.0 1086.3 -2.1 1093.0 2.9C1099.7 7.8 1106.3 13.0 1113.0 18.1C1119.7 23.2 1126.3 28.5 1133.0 33.5C1139.7 38.5 1146.3 43.5 1153.0 48.1C1159.7 52.7 1166.3 57.1 1173.0 61.2C1179.7 65.3 1186.3 69.1 1193.0 72.8C1199.7 76.4 1206.3 79.8 1213.0 83.1C1219.7 86.4 1226.3 89.7 1233.0 92.8C1239.7 95.9 1246.3 99.0 1253.0 101.8C1259.7 104.6 1266.3 107.3 1273.0 109.8C1279.7 112.3 1286.3 114.5 1293.0 116.6C1299.7 118.8 1306.3 120.7 1313.0 122.7C1319.7 124.7 1326.3 126.6 1333.0 128.7C1339.7 130.7 1346.3 132.8 1353.0 134.9C1359.7 137.0 1366.3 139.2 1373.0 141.2C1379.7 143.1 1386.3 145.1 1393.0 146.8C1399.7 148.6 1406.3 150.2 1413.0 151.5C1419.7 152.9 1426.3 154.1 1433.0 155.1C1439.7 156.1 1446.3 156.9 1453.0 157.5C1459.7 158.1 1466.3 158.5 1473.0 158.7C1479.7 159.0 1486.3 159.0 1493.0 159.0C1499.7 159.0 1506.3 158.8 1513.0 158.5C1519.7 158.2 1526.3 157.7 1533.0 157.2C1539.7 156.7 1546.3 156.1 1553.0 155.4C1559.7 154.7 1566.3 154.0 1573.0 153.2C1579.7 152.3 1586.3 151.5 1593.0 150.6C1599.7 149.7 1606.3 148.7 1613.0 147.7C1619.7 146.8 1629.7 145.3 1633.0 144.8"/>
<path d="M933.0 -63.1C936.3 -62.5 946.3 -61.1 953.0 -59.9C959.7 -58.6 966.3 -57.2 973.0 -55.3C979.7 -53.5 986.3 -51.4 993.0 -49.0C999.7 -46.6 1006.3 -43.9 1013.0 -40.9C1019.7 -38.0 1026.3 -34.9 1033.0 -31.4C1039.7 -27.8 1046.3 -23.8 1053.0 -19.6C1059.7 -15.3 1066.3 -10.5 1073.0 -5.8C1079.7 -1.1 1086.3 3.8 1093.0 8.8C1099.7 13.8 1106.3 19.0 1113.0 24.1C1119.7 29.3 1126.3 34.5 1133.0 39.5C1139.7 44.5 1146.3 49.5 1153.0 54.1C1159.7 58.7 1166.3 63.1 1173.0 67.2C1179.7 71.3 1186.3 75.1 1193.0 78.8C1199.7 82.4 1206.3 85.8 1213.0 89.1C1219.7 92.4 1226.3 95.6 1233.0 98.7C1239.7 101.7 1246.3 104.7 1253.0 107.5C1259.7 110.3 1266.3 112.9 1273.0 115.3C1279.7 117.7 1286.3 119.8 1293.0 121.9C1299.7 124.0 1306.3 125.8 1313.0 127.7C1319.7 129.6 1326.3 131.4 1333.0 133.4C1339.7 135.3 1346.3 137.4 1353.0 139.4C1359.7 141.3 1366.3 143.4 1373.0 145.3C1379.7 147.2 1386.3 149.1 1393.0 150.8C1399.7 152.4 1406.3 153.9 1413.0 155.2C1419.7 156.5 1426.3 157.6 1433.0 158.6C1439.7 159.5 1446.3 160.2 1453.0 160.7C1459.7 161.2 1466.3 161.6 1473.0 161.7C1479.7 161.9 1486.3 161.9 1493.0 161.8C1499.7 161.6 1506.3 161.4 1513.0 161.0C1519.7 160.6 1526.3 160.1 1533.0 159.5C1539.7 158.9 1546.3 158.2 1553.0 157.4C1559.7 156.6 1566.3 155.8 1573.0 154.9C1579.7 154.0 1586.3 153.0 1593.0 152.0C1599.7 151.0 1606.3 150.0 1613.0 148.9C1619.7 147.9 1629.7 146.2 1633.0 145.7"/>
<path d="M933.0 -58.0C936.3 -57.5 946.3 -56.0 953.0 -54.7C959.7 -53.4 966.3 -51.9 973.0 -50.1C979.7 -48.2 986.3 -46.1 993.0 -43.6C999.7 -41.2 1006.3 -38.4 1013.0 -35.4C1019.7 -32.4 1026.3 -29.3 1033.0 -25.7C1039.7 -22.1 1046.3 -18.1 1053.0 -13.8C1059.7 -9.5 1066.3 -4.7 1073.0 0.1C1079.7 4.9 1086.3 9.8 1093.0 14.8C1099.7 19.8 1106.3 25.0 1113.0 30.1C1119.7 35.3 1126.3 40.6 1133.0 45.6C1139.7 50.5 1146.3 55.5 1153.0 60.1C1159.7 64.7 1166.3 69.1 1173.0 73.2C1179.7 77.3 1186.3 81.1 1193.0 84.8C1199.7 88.4 1206.3 91.8 1213.0 95.1C1219.7 98.4 1226.3 101.5 1233.0 104.6C1239.7 107.6 1246.3 110.5 1253.0 113.2C1259.7 115.9 1266.3 118.5 1273.0 120.8C1279.7 123.1 1286.3 125.2 1293.0 127.2C1299.7 129.1 1306.3 130.9 1313.0 132.7C1319.7 134.5 1326.3 136.3 1333.0 138.1C1339.7 140.0 1346.3 141.9 1353.0 143.8C1359.7 145.7 1366.3 147.7 1373.0 149.5C1379.7 151.3 1386.3 153.1 1393.0 154.7C1399.7 156.3 1406.3 157.7 1413.0 158.9C1419.7 160.1 1426.3 161.2 1433.0 162.0C1439.7 162.9 1446.3 163.5 1453.0 164.0C1459.7 164.4 1466.3 164.7 1473.0 164.8C1479.7 164.8 1486.3 164.8 1493.0 164.5C1499.7 164.3 1506.3 164.0 1513.0 163.5C1519.7 163.0 1526.3 162.4 1533.0 161.7C1539.7 161.0 1546.3 160.2 1553.0 159.4C1559.7 158.5 1566.3 157.6 1573.0 156.6C1579.7 155.6 1586.3 154.5 1593.0 153.5C1599.7 152.4 1606.3 151.2 1613.0 150.1C1619.7 149.0 1629.7 147.2 1633.0 146.6"/>
<path d="M933.0 -52.9C936.3 -52.4 946.3 -50.9 953.0 -49.5C959.7 -48.2 966.3 -46.7 973.0 -44.8C979.7 -42.9 986.3 -40.7 993.0 -38.2C999.7 -35.7 1006.3 -32.9 1013.0 -29.8C1019.7 -26.8 1026.3 -23.7 1033.0 -20.1C1039.7 -16.4 1046.3 -12.4 1053.0 -8.0C1059.7 -3.7 1066.3 1.2 1073.0 6.0C1079.7 10.8 1086.3 15.7 1093.0 20.8C1099.7 25.8 1106.3 31.0 1113.0 36.2C1119.7 41.3 1126.3 46.6 1133.0 51.6C1139.7 56.6 1146.3 61.5 1153.0 66.1C1159.7 70.7 1166.3 75.1 1173.0 79.2C1179.7 83.3 1186.3 87.1 1193.0 90.8C1199.7 94.4 1206.3 97.8 1213.0 101.1C1219.7 104.3 1226.3 107.5 1233.0 110.5C1239.7 113.4 1246.3 116.3 1253.0 119.0C1259.7 121.6 1266.3 124.0 1273.0 126.3C1279.7 128.5 1286.3 130.5 1293.0 132.4C1299.7 134.3 1306.3 136.0 1313.0 137.7C1319.7 139.4 1326.3 141.1 1333.0 142.8C1339.7 144.6 1346.3 146.4 1353.0 148.2C1359.7 150.0 1366.3 151.9 1373.0 153.7C1379.7 155.4 1386.3 157.1 1393.0 158.6C1399.7 160.1 1406.3 161.5 1413.0 162.6C1419.7 163.8 1426.3 164.7 1433.0 165.5C1439.7 166.3 1446.3 166.8 1453.0 167.2C1459.7 167.6 1466.3 167.7 1473.0 167.8C1479.7 167.8 1486.3 167.6 1493.0 167.3C1499.7 167.0 1506.3 166.6 1513.0 166.0C1519.7 165.4 1526.3 164.8 1533.0 164.0C1539.7 163.2 1546.3 162.3 1553.0 161.4C1559.7 160.4 1566.3 159.4 1573.0 158.3C1579.7 157.2 1586.3 156.1 1593.0 154.9C1599.7 153.7 1606.3 152.5 1613.0 151.3C1619.7 150.1 1629.7 148.2 1633.0 147.5"/>
<path d="M933.0 -47.9C936.3 -47.3 946.3 -45.8 953.0 -44.4C959.7 -43.0 966.3 -41.5 973.0 -39.5C979.7 -37.6 986.3 -35.4 993.0 -32.8C999.7 -30.3 1006.3 -27.4 1013.0 -24.3C1019.7 -21.2 1026.3 -18.1 1033.0 -14.4C1039.7 -10.8 1046.3 -6.7 1053.0 -2.3C1059.7 2.1 1066.3 7.0 1073.0 11.9C1079.7 16.7 1086.3 21.7 1093.0 26.7C1099.7 31.8 1106.3 37.0 1113.0 42.2C1119.7 47.3 1126.3 52.6 1133.0 57.6C1139.7 62.6 1146.3 67.5 1153.0 72.1C1159.7 76.7 1166.3 81.1 1173.0 85.2C1179.7 89.3 1186.3 93.1 1193.0 96.8C1199.7 100.4 1206.3 103.8 1213.0 107.0C1219.7 110.3 1226.3 113.4 1233.0 116.3C1239.7 119.3 1246.3 122.1 1253.0 124.7C1259.7 127.3 1266.3 129.6 1273.0 131.8C1279.7 134.0 1286.3 135.9 1293.0 137.7C1299.7 139.5 1306.3 141.1 1313.0 142.7C1319.7 144.3 1326.3 145.9 1333.0 147.6C1339.7 149.2 1346.3 151.0 1353.0 152.7C1359.7 154.4 1366.3 156.2 1373.0 157.8C1379.7 159.5 1386.3 161.1 1393.0 162.5C1399.7 163.9 1406.3 165.2 1413.0 166.3C1419.7 167.4 1426.3 168.3 1433.0 169.0C1439.7 169.7 1446.3 170.2 1453.0 170.5C1459.7 170.8 1466.3 170.8 1473.0 170.8C1479.7 170.7 1486.3 170.5 1493.0 170.1C1499.7 169.7 1506.3 169.2 1513.0 168.5C1519.7 167.9 1526.3 167.1 1533.0 166.2C1539.7 165.4 1546.3 164.4 1553.0 163.4C1559.7 162.3 1566.3 161.2 1573.0 160.0C1579.7 158.9 1586.3 157.6 1593.0 156.4C1599.7 155.1 1606.3 153.8 1613.0 152.5C1619.7 151.1 1629.7 149.1 1633.0 148.5"/>
<path d="M933.0 -42.8C936.3 -42.2 946.3 -40.6 953.0 -39.2C959.7 -37.8 966.3 -36.2 973.0 -34.3C979.7 -32.3 986.3 -30.0 993.0 -27.4C999.7 -24.8 1006.3 -21.9 1013.0 -18.8C1019.7 -15.7 1026.3 -12.5 1033.0 -8.8C1039.7 -5.1 1046.3 -1.0 1053.0 3.5C1059.7 7.9 1066.3 12.9 1073.0 17.8C1079.7 22.6 1086.3 27.6 1093.0 32.7C1099.7 37.8 1106.3 43.0 1113.0 48.2C1119.7 53.3 1126.3 58.6 1133.0 63.6C1139.7 68.6 1146.3 73.5 1153.0 78.1C1159.7 82.7 1166.3 87.1 1173.0 91.2C1179.7 95.3 1186.3 99.2 1193.0 102.8C1199.7 106.4 1206.3 109.8 1213.0 113.0C1219.7 116.3 1226.3 119.3 1233.0 122.2C1239.7 125.1 1246.3 127.9 1253.0 130.4C1259.7 132.9 1266.3 135.2 1273.0 137.3C1279.7 139.4 1286.3 141.2 1293.0 142.9C1299.7 144.7 1306.3 146.1 1313.0 147.7C1319.7 149.3 1326.3 150.7 1333.0 152.3C1339.7 153.9 1346.3 155.5 1353.0 157.1C1359.7 158.7 1366.3 160.4 1373.0 162.0C1379.7 163.6 1386.3 165.1 1393.0 166.4C1399.7 167.8 1406.3 169.0 1413.0 170.0C1419.7 171.0 1426.3 171.8 1433.0 172.4C1439.7 173.1 1446.3 173.5 1453.0 173.7C1459.7 173.9 1466.3 173.9 1473.0 173.8C1479.7 173.6 1486.3 173.3 1493.0 172.8C1499.7 172.4 1506.3 171.8 1513.0 171.0C1519.7 170.3 1526.3 169.4 1533.0 168.5C1539.7 167.5 1546.3 166.5 1553.0 165.3C1559.7 164.2 1566.3 163.0 1573.0 161.7C1579.7 160.5 1586.3 159.1 1593.0 157.8C1599.7 156.5 1606.3 155.0 1613.0 153.6C1619.7 152.2 1629.7 150.1 1633.0 149.4"/>
<path d="M933.0 -37.7C936.3 -37.1 946.3 -35.5 953.0 -34.0C959.7 -32.6 966.3 -31.0 973.0 -29.0C979.7 -27.0 986.3 -24.6 993.0 -22.0C999.7 -19.4 1006.3 -16.4 1013.0 -13.2C1019.7 -10.1 1026.3 -6.9 1033.0 -3.2C1039.7 0.6 1046.3 4.8 1053.0 9.2C1059.7 13.7 1066.3 18.7 1073.0 23.7C1079.7 28.6 1086.3 33.6 1093.0 38.7C1099.7 43.8 1106.3 49.0 1113.0 54.2C1119.7 59.3 1126.3 64.6 1133.0 69.6C1139.7 74.6 1146.3 79.5 1153.0 84.1C1159.7 88.7 1166.3 93.1 1173.0 97.2C1179.7 101.3 1186.3 105.2 1193.0 108.8C1199.7 112.4 1206.3 115.8 1213.0 119.0C1219.7 122.2 1226.3 125.3 1233.0 128.1C1239.7 131.0 1246.3 133.7 1253.0 136.1C1259.7 138.6 1266.3 140.8 1273.0 142.8C1279.7 144.8 1286.3 146.5 1293.0 148.2C1299.7 149.8 1306.3 151.2 1313.0 152.7C1319.7 154.2 1326.3 155.5 1333.0 157.0C1339.7 158.5 1346.3 160.0 1353.0 161.6C1359.7 163.1 1366.3 164.7 1373.0 166.2C1379.7 167.6 1386.3 169.1 1393.0 170.4C1399.7 171.6 1406.3 172.7 1413.0 173.7C1419.7 174.6 1426.3 175.4 1433.0 175.9C1439.7 176.5 1446.3 176.8 1453.0 177.0C1459.7 177.1 1466.3 177.0 1473.0 176.8C1479.7 176.6 1486.3 176.2 1493.0 175.6C1499.7 175.1 1506.3 174.4 1513.0 173.5C1519.7 172.7 1526.3 171.8 1533.0 170.7C1539.7 169.7 1546.3 168.5 1553.0 167.3C1559.7 166.1 1566.3 164.8 1573.0 163.5C1579.7 162.1 1586.3 160.7 1593.0 159.2C1599.7 157.8 1606.3 156.3 1613.0 154.8C1619.7 153.3 1629.7 151.0 1633.0 150.3"/>
<path d="M933.0 -32.7C936.3 -32.0 946.3 -30.4 953.0 -28.9C959.7 -27.4 966.3 -25.8 973.0 -23.7C979.7 -21.7 986.3 -19.3 993.0 -16.6C999.7 -13.9 1006.3 -10.9 1013.0 -7.7C1019.7 -4.5 1026.3 -1.3 1033.0 2.5C1039.7 6.3 1046.3 10.5 1053.0 15.0C1059.7 19.5 1066.3 24.6 1073.0 29.5C1079.7 34.5 1086.3 39.5 1093.0 44.6C1099.7 49.7 1106.3 55.0 1113.0 60.2C1119.7 65.4 1126.3 70.6 1133.0 75.6C1139.7 80.6 1146.3 85.5 1153.0 90.1C1159.7 94.7 1166.3 99.1 1173.0 103.2C1179.7 107.3 1186.3 111.2 1193.0 114.8C1199.7 118.4 1206.3 121.8 1213.0 125.0C1219.7 128.2 1226.3 131.2 1233.0 134.0C1239.7 136.8 1246.3 139.5 1253.0 141.9C1259.7 144.2 1266.3 146.4 1273.0 148.3C1279.7 150.2 1286.3 151.9 1293.0 153.4C1299.7 155.0 1306.3 156.3 1313.0 157.7C1319.7 159.1 1326.3 160.4 1333.0 161.7C1339.7 163.1 1346.3 164.6 1353.0 166.0C1359.7 167.4 1366.3 169.0 1373.0 170.3C1379.7 171.7 1386.3 173.1 1393.0 174.3C1399.7 175.4 1406.3 176.5 1413.0 177.4C1419.7 178.2 1426.3 178.9 1433.0 179.4C1439.7 179.9 1446.3 180.1 1453.0 180.2C1459.7 180.3 1466.3 180.1 1473.0 179.8C1479.7 179.5 1486.3 179.0 1493.0 178.4C1499.7 177.8 1506.3 177.0 1513.0 176.1C1519.7 175.2 1526.3 174.1 1533.0 173.0C1539.7 171.9 1546.3 170.6 1553.0 169.3C1559.7 168.0 1566.3 166.6 1573.0 165.2C1579.7 163.7 1586.3 162.2 1593.0 160.7C1599.7 159.2 1606.3 157.6 1613.0 156.0C1619.7 154.4 1629.7 152.0 1633.0 151.2"/>
<path d="M933.0 -27.6C936.3 -27.0 946.3 -25.2 953.0 -23.7C959.7 -22.2 966.3 -20.6 973.0 -18.5C979.7 -16.4 986.3 -13.9 993.0 -11.2C999.7 -8.5 1006.3 -5.4 1013.0 -2.2C1019.7 1.0 1026.3 4.3 1033.0 8.1C1039.7 11.9 1046.3 16.2 1053.0 20.8C1059.7 25.3 1066.3 30.5 1073.0 35.4C1079.7 40.4 1086.3 45.5 1093.0 50.6C1099.7 55.7 1106.3 61.0 1113.0 66.2C1119.7 71.4 1126.3 76.7 1133.0 81.6C1139.7 86.6 1146.3 91.5 1153.0 96.1C1159.7 100.7 1166.3 105.1 1173.0 109.2C1179.7 113.3 1186.3 117.2 1193.0 120.8C1199.7 124.4 1206.3 127.8 1213.0 131.0C1219.7 134.2 1226.3 137.1 1233.0 139.9C1239.7 142.7 1246.3 145.3 1253.0 147.6C1259.7 149.9 1266.3 152.0 1273.0 153.8C1279.7 155.7 1286.3 157.2 1293.0 158.7C1299.7 160.2 1306.3 161.4 1313.0 162.7C1319.7 164.0 1326.3 165.2 1333.0 166.5C1339.7 167.8 1346.3 169.1 1353.0 170.4C1359.7 171.8 1366.3 173.2 1373.0 174.5C1379.7 175.8 1386.3 177.1 1393.0 178.2C1399.7 179.3 1406.3 180.3 1413.0 181.0C1419.7 181.8 1426.3 182.5 1433.0 182.9C1439.7 183.3 1446.3 183.5 1453.0 183.5C1459.7 183.4 1466.3 183.2 1473.0 182.8C1479.7 182.4 1486.3 181.9 1493.0 181.1C1499.7 180.4 1506.3 179.6 1513.0 178.6C1519.7 177.6 1526.3 176.4 1533.0 175.2C1539.7 174.0 1546.3 172.7 1553.0 171.3C1559.7 169.9 1566.3 168.4 1573.0 166.9C1579.7 165.4 1586.3 163.8 1593.0 162.1C1599.7 160.5 1606.3 158.9 1613.0 157.2C1619.7 155.5 1629.7 153.0 1633.0 152.1"/>
<path d="M933.0 -22.5C936.3 -21.9 946.3 -20.1 953.0 -18.6C959.7 -17.0 966.3 -15.3 973.0 -13.2C979.7 -11.1 986.3 -8.6 993.0 -5.8C999.7 -3.1 1006.3 0.1 1013.0 3.4C1019.7 6.6 1026.3 9.9 1033.0 13.8C1039.7 17.6 1046.3 21.9 1053.0 26.5C1059.7 31.1 1066.3 36.3 1073.0 41.3C1079.7 46.3 1086.3 51.4 1093.0 56.6C1099.7 61.7 1106.3 67.0 1113.0 72.2C1119.7 77.4 1126.3 82.7 1133.0 87.7C1139.7 92.6 1146.3 97.5 1153.0 102.1C1159.7 106.7 1166.3 111.1 1173.0 115.2C1179.7 119.3 1186.3 123.2 1193.0 126.8C1199.7 130.5 1206.3 133.8 1213.0 137.0C1219.7 140.1 1226.3 143.1 1233.0 145.8C1239.7 148.5 1246.3 151.1 1253.0 153.3C1259.7 155.6 1266.3 157.5 1273.0 159.3C1279.7 161.1 1286.3 162.6 1293.0 164.0C1299.7 165.4 1306.3 166.5 1313.0 167.7C1319.7 168.9 1326.3 170.0 1333.0 171.2C1339.7 172.4 1346.3 173.6 1353.0 174.9C1359.7 176.1 1366.3 177.5 1373.0 178.7C1379.7 179.9 1386.3 181.1 1393.0 182.1C1399.7 183.1 1406.3 184.0 1413.0 184.7C1419.7 185.4 1426.3 186.0 1433.0 186.3C1439.7 186.7 1446.3 186.8 1453.0 186.7C1459.7 186.6 1466.3 186.3 1473.0 185.8C1479.7 185.4 1486.3 184.7 1493.0 183.9C1499.7 183.1 1506.3 182.1 1513.0 181.1C1519.7 180.0 1526.3 178.8 1533.0 177.5C1539.7 176.2 1546.3 174.8 1553.0 173.3C1559.7 171.8 1566.3 170.2 1573.0 168.6C1579.7 167.0 1586.3 165.3 1593.0 163.6C1599.7 161.9 1606.3 160.1 1613.0 158.4C1619.7 156.6 1629.7 153.9 1633.0 153.0"/>
<path d="M933.0 -17.5C936.3 -16.8 946.3 -15.0 953.0 -13.4C959.7 -11.8 966.3 -10.1 973.0 -7.9C979.7 -5.8 986.3 -3.2 993.0 -0.4C999.7 2.4 1006.3 5.6 1013.0 8.9C1019.7 12.2 1026.3 15.5 1033.0 19.4C1039.7 23.3 1046.3 27.6 1053.0 32.3C1059.7 36.9 1066.3 42.2 1073.0 47.2C1079.7 52.3 1086.3 57.4 1093.0 62.5C1099.7 67.7 1106.3 73.0 1113.0 78.2C1119.7 83.4 1126.3 88.7 1133.0 93.7C1139.7 98.6 1146.3 103.5 1153.0 108.1C1159.7 112.7 1166.3 117.1 1173.0 121.2C1179.7 125.3 1186.3 129.2 1193.0 132.8C1199.7 136.5 1206.3 139.8 1213.0 142.9C1219.7 146.1 1226.3 149.0 1233.0 151.7C1239.7 154.4 1246.3 156.8 1253.0 159.0C1259.7 161.2 1266.3 163.1 1273.0 164.8C1279.7 166.5 1286.3 167.9 1293.0 169.2C1299.7 170.5 1306.3 171.6 1313.0 172.7C1319.7 173.8 1326.3 174.8 1333.0 175.9C1339.7 177.0 1346.3 178.2 1353.0 179.3C1359.7 180.5 1366.3 181.7 1373.0 182.9C1379.7 184.0 1386.3 185.1 1393.0 186.0C1399.7 187.0 1406.3 187.8 1413.0 188.4C1419.7 189.1 1426.3 189.5 1433.0 189.8C1439.7 190.1 1446.3 190.1 1453.0 189.9C1459.7 189.8 1466.3 189.4 1473.0 188.9C1479.7 188.3 1486.3 187.6 1493.0 186.7C1499.7 185.8 1506.3 184.7 1513.0 183.6C1519.7 182.4 1526.3 181.1 1533.0 179.7C1539.7 178.3 1546.3 176.8 1553.0 175.3C1559.7 173.7 1566.3 172.0 1573.0 170.3C1579.7 168.6 1586.3 166.8 1593.0 165.0C1599.7 163.2 1606.3 161.4 1613.0 159.5C1619.7 157.7 1629.7 154.9 1633.0 153.9"/>
<path d="M933.0 -12.4C936.3 -11.7 946.3 -9.9 953.0 -8.2C959.7 -6.6 966.3 -4.9 973.0 -2.7C979.7 -0.5 986.3 2.1 993.0 5.0C999.7 7.8 1006.3 11.1 1013.0 14.4C1019.7 17.8 1026.3 21.1 1033.0 25.0C1039.7 29.0 1046.3 33.4 1053.0 38.0C1059.7 42.7 1066.3 48.0 1073.0 53.1C1079.7 58.2 1086.3 63.3 1093.0 68.5C1099.7 73.7 1106.3 79.0 1113.0 84.2C1119.7 89.4 1126.3 94.7 1133.0 99.7C1139.7 104.7 1146.3 109.5 1153.0 114.1C1159.7 118.7 1166.3 123.1 1173.0 127.2C1179.7 131.3 1186.3 135.2 1193.0 138.8C1199.7 142.5 1206.3 145.8 1213.0 148.9C1219.7 152.1 1226.3 154.9 1233.0 157.6C1239.7 160.2 1246.3 162.6 1253.0 164.8C1259.7 166.9 1266.3 168.7 1273.0 170.3C1279.7 171.9 1286.3 173.3 1293.0 174.5C1299.7 175.7 1306.3 176.7 1313.0 177.7C1319.7 178.7 1326.3 179.6 1333.0 180.6C1339.7 181.6 1346.3 182.7 1353.0 183.8C1359.7 184.8 1366.3 186.0 1373.0 187.0C1379.7 188.1 1386.3 189.1 1393.0 189.9C1399.7 190.8 1406.3 191.6 1413.0 192.1C1419.7 192.7 1426.3 193.1 1433.0 193.3C1439.7 193.4 1446.3 193.4 1453.0 193.2C1459.7 193.0 1466.3 192.5 1473.0 191.9C1479.7 191.2 1486.3 190.4 1493.0 189.5C1499.7 188.5 1506.3 187.3 1513.0 186.1C1519.7 184.9 1526.3 183.5 1533.0 182.0C1539.7 180.5 1546.3 178.9 1553.0 177.2C1559.7 175.6 1566.3 173.8 1573.0 172.0C1579.7 170.2 1586.3 168.4 1593.0 166.5C1599.7 164.6 1606.3 162.7 1613.0 160.7C1619.7 158.8 1629.7 155.8 1633.0 154.9"/>
<path d="M933.0 -7.3C936.3 -6.6 946.3 -4.7 953.0 -3.1C959.7 -1.4 966.3 0.3 973.0 2.6C979.7 4.8 986.3 7.5 993.0 10.4C999.7 13.3 1006.3 16.6 1013.0 20.0C1019.7 23.3 1026.3 26.7 1033.0 30.7C1039.7 34.6 1046.3 39.1 1053.0 43.8C1059.7 48.5 1066.3 53.9 1073.0 59.0C1079.7 64.1 1086.3 69.3 1093.0 74.5C1099.7 79.7 1106.3 85.0 1113.0 90.2C1119.7 95.4 1126.3 100.7 1133.0 105.7C1139.7 110.7 1146.3 115.5 1153.0 120.1C1159.7 124.7 1166.3 129.1 1173.0 133.2C1179.7 137.3 1186.3 141.2 1193.0 144.8C1199.7 148.5 1206.3 151.8 1213.0 154.9C1219.7 158.0 1226.3 160.9 1233.0 163.5C1239.7 166.1 1246.3 168.4 1253.0 170.5C1259.7 172.5 1266.3 174.3 1273.0 175.8C1279.7 177.4 1286.3 178.6 1293.0 179.7C1299.7 180.9 1306.3 181.8 1313.0 182.7C1319.7 183.6 1326.3 184.4 1333.0 185.4C1339.7 186.3 1346.3 187.2 1353.0 188.2C1359.7 189.2 1366.3 190.3 1373.0 191.2C1379.7 192.1 1386.3 193.1 1393.0 193.9C1399.7 194.6 1406.3 195.3 1413.0 195.8C1419.7 196.3 1426.3 196.6 1433.0 196.7C1439.7 196.8 1446.3 196.8 1453.0 196.4C1459.7 196.1 1466.3 195.6 1473.0 194.9C1479.7 194.2 1486.3 193.3 1493.0 192.2C1499.7 191.2 1506.3 189.9 1513.0 188.6C1519.7 187.3 1526.3 185.8 1533.0 184.2C1539.7 182.7 1546.3 181.0 1553.0 179.2C1559.7 177.5 1566.3 175.6 1573.0 173.7C1579.7 171.9 1586.3 169.9 1593.0 167.9C1599.7 166.0 1606.3 163.9 1613.0 161.9C1619.7 159.9 1629.7 156.8 1633.0 155.8"/>
<path d="M933.0 -2.3C936.3 -1.5 946.3 0.4 953.0 2.1C959.7 3.8 966.3 5.6 973.0 7.9C979.7 10.1 986.3 12.8 993.0 15.8C999.7 18.7 1006.3 22.1 1013.0 25.5C1019.7 28.9 1026.3 32.3 1033.0 36.3C1039.7 40.3 1046.3 44.8 1053.0 49.6C1059.7 54.3 1066.3 59.7 1073.0 64.9C1079.7 70.0 1086.3 75.2 1093.0 80.4C1099.7 85.7 1106.3 91.0 1113.0 96.2C1119.7 101.5 1126.3 106.7 1133.0 111.7C1139.7 116.7 1146.3 121.5 1153.0 126.1C1159.7 130.7 1166.3 135.0 1173.0 139.2C1179.7 143.3 1186.3 147.2 1193.0 150.9C1199.7 154.5 1206.3 157.8 1213.0 160.9C1219.7 164.0 1226.3 166.8 1233.0 169.4C1239.7 171.9 1246.3 174.2 1253.0 176.2C1259.7 178.2 1266.3 179.9 1273.0 181.3C1279.7 182.8 1286.3 183.9 1293.0 185.0C1299.7 186.1 1306.3 186.9 1313.0 187.7C1319.7 188.6 1326.3 189.3 1333.0 190.1C1339.7 190.9 1346.3 191.8 1353.0 192.7C1359.7 193.5 1366.3 194.5 1373.0 195.4C1379.7 196.2 1386.3 197.1 1393.0 197.8C1399.7 198.5 1406.3 199.1 1413.0 199.5C1419.7 199.9 1426.3 200.2 1433.0 200.2C1439.7 200.2 1446.3 200.1 1453.0 199.7C1459.7 199.3 1466.3 198.7 1473.0 197.9C1479.7 197.1 1486.3 196.1 1493.0 195.0C1499.7 193.9 1506.3 192.5 1513.0 191.1C1519.7 189.7 1526.3 188.1 1533.0 186.5C1539.7 184.8 1546.3 183.1 1553.0 181.2C1559.7 179.4 1566.3 177.4 1573.0 175.5C1579.7 173.5 1586.3 171.4 1593.0 169.4C1599.7 167.3 1606.3 165.2 1613.0 163.1C1619.7 161.0 1629.7 157.8 1633.0 156.7"/>
<path d="M933.0 2.8C936.3 3.6 946.3 5.5 953.0 7.3C959.7 9.0 966.3 10.8 973.0 13.1C979.7 15.4 986.3 18.2 993.0 21.2C999.7 24.2 1006.3 27.6 1013.0 31.0C1019.7 34.5 1026.3 37.9 1033.0 41.9C1039.7 46.0 1046.3 50.5 1053.0 55.3C1059.7 60.1 1066.3 65.6 1073.0 70.8C1079.7 76.0 1086.3 81.2 1093.0 86.4C1099.7 91.6 1106.3 97.0 1113.0 102.2C1119.7 107.5 1126.3 112.8 1133.0 117.7C1139.7 122.7 1146.3 127.5 1153.0 132.1C1159.7 136.7 1166.3 141.0 1173.0 145.2C1179.7 149.3 1186.3 153.2 1193.0 156.9C1199.7 160.5 1206.3 163.8 1213.0 166.9C1219.7 170.0 1226.3 172.8 1233.0 175.3C1239.7 177.8 1246.3 180.0 1253.0 181.9C1259.7 183.9 1266.3 185.4 1273.0 186.8C1279.7 188.2 1286.3 189.3 1293.0 190.3C1299.7 191.2 1306.3 191.9 1313.0 192.7C1319.7 193.5 1326.3 194.1 1333.0 194.8C1339.7 195.5 1346.3 196.3 1353.0 197.1C1359.7 197.9 1366.3 198.8 1373.0 199.5C1379.7 200.3 1386.3 201.1 1393.0 201.7C1399.7 202.3 1406.3 202.8 1413.0 203.2C1419.7 203.5 1426.3 203.7 1433.0 203.7C1439.7 203.6 1446.3 203.4 1453.0 202.9C1459.7 202.5 1466.3 201.8 1473.0 200.9C1479.7 200.0 1486.3 199.0 1493.0 197.8C1499.7 196.5 1506.3 195.1 1513.0 193.6C1519.7 192.1 1526.3 190.5 1533.0 188.7C1539.7 187.0 1546.3 185.1 1553.0 183.2C1559.7 181.3 1566.3 179.2 1573.0 177.2C1579.7 175.1 1586.3 173.0 1593.0 170.8C1599.7 168.7 1606.3 166.5 1613.0 164.3C1619.7 162.1 1629.7 158.7 1633.0 157.6"/>
<path d="M933.0 7.9C936.3 8.6 946.3 10.7 953.0 12.4C959.7 14.2 966.3 16.0 973.0 18.4C979.7 20.7 986.3 23.5 993.0 26.6C999.7 29.6 1006.3 33.0 1013.0 36.5C1019.7 40.0 1026.3 43.5 1033.0 47.6C1039.7 51.7 1046.3 56.2 1053.0 61.1C1059.7 65.9 1066.3 71.4 1073.0 76.7C1079.7 81.9 1086.3 87.1 1093.0 92.4C1099.7 97.6 1106.3 103.0 1113.0 108.3C1119.7 113.5 1126.3 118.8 1133.0 123.7C1139.7 128.7 1146.3 133.5 1153.0 138.1C1159.7 142.6 1166.3 147.0 1173.0 151.2C1179.7 155.3 1186.3 159.3 1193.0 162.9C1199.7 166.5 1206.3 169.8 1213.0 172.9C1219.7 175.9 1226.3 178.7 1233.0 181.1C1239.7 183.6 1246.3 185.8 1253.0 187.7C1259.7 189.5 1266.3 191.0 1273.0 192.3C1279.7 193.6 1286.3 194.6 1293.0 195.5C1299.7 196.4 1306.3 197.0 1313.0 197.7C1319.7 198.4 1326.3 198.9 1333.0 199.5C1339.7 200.2 1346.3 200.8 1353.0 201.5C1359.7 202.2 1366.3 203.0 1373.0 203.7C1379.7 204.4 1386.3 205.1 1393.0 205.6C1399.7 206.1 1406.3 206.6 1413.0 206.9C1419.7 207.1 1426.3 207.3 1433.0 207.1C1439.7 207.0 1446.3 206.7 1453.0 206.2C1459.7 205.6 1466.3 204.9 1473.0 203.9C1479.7 203.0 1486.3 201.8 1493.0 200.5C1499.7 199.2 1506.3 197.7 1513.0 196.2C1519.7 194.6 1526.3 192.8 1533.0 191.0C1539.7 189.2 1546.3 187.2 1553.0 185.2C1559.7 183.2 1566.3 181.0 1573.0 178.9C1579.7 176.7 1586.3 174.5 1593.0 172.3C1599.7 170.0 1606.3 167.7 1613.0 165.5C1619.7 163.2 1629.7 159.7 1633.0 158.5"/>
<path d="M933.0 12.9C936.3 13.7 946.3 15.8 953.0 17.6C959.7 19.4 966.3 21.3 973.0 23.7C979.7 26.1 986.3 28.9 993.0 32.0C999.7 35.0 1006.3 38.5 1013.0 42.1C1019.7 45.6 1026.3 49.1 1033.0 53.2C1039.7 57.3 1046.3 62.0 1053.0 66.9C1059.7 71.7 1066.3 77.3 1073.0 82.6C1079.7 87.8 1086.3 93.0 1093.0 98.3C1099.7 103.6 1106.3 109.0 1113.0 114.3C1119.7 119.5 1126.3 124.8 1133.0 129.8C1139.7 134.7 1146.3 139.5 1153.0 144.1C1159.7 148.6 1166.3 153.0 1173.0 157.2C1179.7 161.3 1186.3 165.3 1193.0 168.9C1199.7 172.5 1206.3 175.8 1213.0 178.9C1219.7 181.9 1226.3 184.6 1233.0 187.0C1239.7 189.5 1246.3 191.6 1253.0 193.4C1259.7 195.2 1266.3 196.6 1273.0 197.8C1279.7 199.1 1286.3 200.0 1293.0 200.8C1299.7 201.6 1306.3 202.1 1313.0 202.7C1319.7 203.3 1326.3 203.7 1333.0 204.3C1339.7 204.8 1346.3 205.4 1353.0 206.0C1359.7 206.6 1366.3 207.3 1373.0 207.9C1379.7 208.5 1386.3 209.1 1393.0 209.5C1399.7 210.0 1406.3 210.4 1413.0 210.6C1419.7 210.7 1426.3 210.8 1433.0 210.6C1439.7 210.4 1446.3 210.0 1453.0 209.4C1459.7 208.8 1466.3 208.0 1473.0 206.9C1479.7 205.9 1486.3 204.7 1493.0 203.3C1499.7 201.9 1506.3 200.3 1513.0 198.7C1519.7 197.0 1526.3 195.2 1533.0 193.2C1539.7 191.3 1546.3 189.3 1553.0 187.2C1559.7 185.1 1566.3 182.9 1573.0 180.6C1579.7 178.4 1586.3 176.1 1593.0 173.7C1599.7 171.4 1606.3 169.0 1613.0 166.6C1619.7 164.2 1629.7 160.6 1633.0 159.4"/>
<path d="M933.0 18.0C936.3 18.8 946.3 20.9 953.0 22.7C959.7 24.6 966.3 26.5 973.0 28.9C979.7 31.4 986.3 34.3 993.0 37.4C999.7 40.5 1006.3 44.0 1013.0 47.6C1019.7 51.2 1026.3 54.7 1033.0 58.9C1039.7 63.0 1046.3 67.7 1053.0 72.6C1059.7 77.5 1066.3 83.2 1073.0 88.4C1079.7 93.7 1086.3 99.0 1093.0 104.3C1099.7 109.6 1106.3 115.0 1113.0 120.3C1119.7 125.5 1126.3 130.8 1133.0 135.8C1139.7 140.7 1146.3 145.5 1153.0 150.1C1159.7 154.6 1166.3 159.0 1173.0 163.2C1179.7 167.3 1186.3 171.3 1193.0 174.9C1199.7 178.5 1206.3 181.8 1213.0 184.8C1219.7 187.9 1226.3 190.6 1233.0 192.9C1239.7 195.3 1246.3 197.4 1253.0 199.1C1259.7 200.8 1266.3 202.2 1273.0 203.3C1279.7 204.5 1286.3 205.3 1293.0 206.0C1299.7 206.8 1306.3 207.2 1313.0 207.7C1319.7 208.2 1326.3 208.5 1333.0 209.0C1339.7 209.4 1346.3 209.9 1353.0 210.4C1359.7 210.9 1366.3 211.5 1373.0 212.0C1379.7 212.5 1386.3 213.1 1393.0 213.4C1399.7 213.8 1406.3 214.1 1413.0 214.2C1419.7 214.3 1426.3 214.3 1433.0 214.1C1439.7 213.8 1446.3 213.4 1453.0 212.7C1459.7 212.0 1466.3 211.1 1473.0 209.9C1479.7 208.8 1486.3 207.5 1493.0 206.1C1499.7 204.6 1506.3 202.9 1513.0 201.2C1519.7 199.4 1526.3 197.5 1533.0 195.5C1539.7 193.5 1546.3 191.3 1553.0 189.2C1559.7 187.0 1566.3 184.7 1573.0 182.3C1579.7 180.0 1586.3 177.6 1593.0 175.2C1599.7 172.8 1606.3 170.3 1613.0 167.8C1619.7 165.3 1629.7 161.6 1633.0 160.3"/>
<path d="M933.0 23.1C936.3 23.9 946.3 26.0 953.0 27.9C959.7 29.7 966.3 31.7 973.0 34.2C979.7 36.7 986.3 39.6 993.0 42.8C999.7 45.9 1006.3 49.5 1013.0 53.1C1019.7 56.8 1026.3 60.3 1033.0 64.5C1039.7 68.7 1046.3 73.4 1053.0 78.4C1059.7 83.4 1066.3 89.0 1073.0 94.3C1079.7 99.6 1086.3 104.9 1093.0 110.3C1099.7 115.6 1106.3 121.0 1113.0 126.3C1119.7 131.5 1126.3 136.8 1133.0 141.8C1139.7 146.7 1146.3 151.5 1153.0 156.1C1159.7 160.6 1166.3 165.0 1173.0 169.2C1179.7 173.3 1186.3 177.3 1193.0 180.9C1199.7 184.5 1206.3 187.8 1213.0 190.8C1219.7 193.8 1226.3 196.5 1233.0 198.8C1239.7 201.2 1246.3 203.2 1253.0 204.8C1259.7 206.5 1266.3 207.8 1273.0 208.8C1279.7 209.9 1286.3 210.6 1293.0 211.3C1299.7 211.9 1306.3 212.3 1313.0 212.7C1319.7 213.1 1326.3 213.4 1333.0 213.7C1339.7 214.1 1346.3 214.5 1353.0 214.9C1359.7 215.3 1366.3 215.8 1373.0 216.2C1379.7 216.6 1386.3 217.1 1393.0 217.4C1399.7 217.7 1406.3 217.9 1413.0 217.9C1419.7 218.0 1426.3 217.9 1433.0 217.6C1439.7 217.2 1446.3 216.7 1453.0 215.9C1459.7 215.2 1466.3 214.1 1473.0 213.0C1479.7 211.8 1486.3 210.4 1493.0 208.8C1499.7 207.3 1506.3 205.5 1513.0 203.7C1519.7 201.8 1526.3 199.8 1533.0 197.7C1539.7 195.6 1546.3 193.4 1553.0 191.1C1559.7 188.9 1566.3 186.5 1573.0 184.0C1579.7 181.6 1586.3 179.1 1593.0 176.6C1599.7 174.1 1606.3 171.6 1613.0 169.0C1619.7 166.4 1629.7 162.5 1633.0 161.3"/>
<path d="M933.0 28.2C936.3 29.0 946.3 31.2 953.0 33.1C959.7 34.9 966.3 36.9 973.0 39.5C979.7 42.0 986.3 45.0 993.0 48.2C999.7 51.4 1006.3 55.0 1013.0 58.7C1019.7 62.3 1026.3 65.9 1033.0 70.1C1039.7 74.4 1046.3 79.1 1053.0 84.1C1059.7 89.2 1066.3 94.9 1073.0 100.2C1079.7 105.6 1086.3 110.9 1093.0 116.2C1099.7 121.6 1106.3 127.0 1113.0 132.3C1119.7 137.6 1126.3 142.8 1133.0 147.8C1139.7 152.8 1146.3 157.5 1153.0 162.1C1159.7 166.6 1166.3 171.0 1173.0 175.1C1179.7 179.3 1186.3 183.3 1193.0 186.9C1199.7 190.5 1206.3 193.8 1213.0 196.8C1219.7 199.8 1226.3 202.4 1233.0 204.7C1239.7 207.0 1246.3 208.9 1253.0 210.6C1259.7 212.2 1266.3 213.4 1273.0 214.4C1279.7 215.4 1286.3 216.0 1293.0 216.5C1299.7 217.1 1306.3 217.4 1313.0 217.7C1319.7 218.0 1326.3 218.2 1333.0 218.4C1339.7 218.7 1346.3 219.0 1353.0 219.3C1359.7 219.6 1366.3 220.1 1373.0 220.4C1379.7 220.7 1386.3 221.1 1393.0 221.3C1399.7 221.5 1406.3 221.7 1413.0 221.6C1419.7 221.6 1426.3 221.4 1433.0 221.0C1439.7 220.6 1446.3 220.0 1453.0 219.2C1459.7 218.3 1466.3 217.2 1473.0 216.0C1479.7 214.7 1486.3 213.2 1493.0 211.6C1499.7 210.0 1506.3 208.1 1513.0 206.2C1519.7 204.3 1526.3 202.2 1533.0 200.0C1539.7 197.8 1546.3 195.5 1553.0 193.1C1559.7 190.7 1566.3 188.3 1573.0 185.8C1579.7 183.3 1586.3 180.7 1593.0 178.1C1599.7 175.5 1606.3 172.8 1613.0 170.2C1619.7 167.5 1629.7 163.5 1633.0 162.2"/>
<path d="M933.0 33.2C936.3 34.1 946.3 36.3 953.0 38.2C959.7 40.1 966.3 42.2 973.0 44.7C979.7 47.3 986.3 50.3 993.0 53.6C999.7 56.8 1006.3 60.5 1013.0 64.2C1019.7 67.9 1026.3 71.5 1033.0 75.8C1039.7 80.0 1046.3 84.8 1053.0 89.9C1059.7 95.0 1066.3 100.7 1073.0 106.1C1079.7 111.5 1086.3 116.8 1093.0 122.2C1099.7 127.6 1106.3 133.0 1113.0 138.3C1119.7 143.6 1126.3 148.8 1133.0 153.8C1139.7 158.8 1146.3 163.5 1153.0 168.1C1159.7 172.6 1166.3 177.0 1173.0 181.1C1179.7 185.3 1186.3 189.3 1193.0 192.9C1199.7 196.5 1206.3 199.8 1213.0 202.8C1219.7 205.7 1226.3 208.4 1233.0 210.6C1239.7 212.8 1246.3 214.7 1253.0 216.3C1259.7 217.8 1266.3 218.9 1273.0 219.9C1279.7 220.8 1286.3 221.3 1293.0 221.8C1299.7 222.3 1306.3 222.5 1313.0 222.7C1319.7 222.9 1326.3 223.0 1333.0 223.2C1339.7 223.3 1346.3 223.5 1353.0 223.8C1359.7 224.0 1366.3 224.3 1373.0 224.6C1379.7 224.8 1386.3 225.1 1393.0 225.2C1399.7 225.3 1406.3 225.4 1413.0 225.3C1419.7 225.2 1426.3 225.0 1433.0 224.5C1439.7 224.0 1446.3 223.3 1453.0 222.4C1459.7 221.5 1466.3 220.3 1473.0 219.0C1479.7 217.6 1486.3 216.1 1493.0 214.4C1499.7 212.6 1506.3 210.7 1513.0 208.7C1519.7 206.7 1526.3 204.5 1533.0 202.2C1539.7 200.0 1546.3 197.6 1553.0 195.1C1559.7 192.6 1566.3 190.1 1573.0 187.5C1579.7 184.9 1586.3 182.2 1593.0 179.5C1599.7 176.8 1606.3 174.1 1613.0 171.4C1619.7 168.6 1629.7 164.5 1633.0 163.1"/>
<path d="M933.0 38.3C936.3 39.1 946.3 41.4 953.0 43.4C959.7 45.3 966.3 47.4 973.0 50.0C979.7 52.6 986.3 55.7 993.0 59.0C999.7 62.3 1006.3 66.0 1013.0 69.7C1019.7 73.5 1026.3 77.1 1033.0 81.4C1039.7 85.7 1046.3 90.6 1053.0 95.7C1059.7 100.8 1066.3 106.6 1073.0 112.0C1079.7 117.4 1086.3 122.8 1093.0 128.2C1099.7 133.6 1106.3 139.0 1113.0 144.3C1119.7 149.6 1126.3 154.9 1133.0 159.8C1139.7 164.8 1146.3 169.5 1153.0 174.1C1159.7 178.6 1166.3 183.0 1173.0 187.1C1179.7 191.3 1186.3 195.3 1193.0 198.9C1199.7 202.5 1206.3 205.9 1213.0 208.8C1219.7 211.7 1226.3 214.3 1233.0 216.5C1239.7 218.7 1246.3 220.5 1253.0 222.0C1259.7 223.5 1266.3 224.5 1273.0 225.4C1279.7 226.2 1286.3 226.7 1293.0 227.1C1299.7 227.5 1306.3 227.6 1313.0 227.7C1319.7 227.8 1326.3 227.8 1333.0 227.9C1339.7 228.0 1346.3 228.1 1353.0 228.2C1359.7 228.3 1366.3 228.6 1373.0 228.7C1379.7 228.9 1386.3 229.1 1393.0 229.1C1399.7 229.2 1406.3 229.2 1413.0 229.0C1419.7 228.8 1426.3 228.5 1433.0 228.0C1439.7 227.4 1446.3 226.7 1453.0 225.7C1459.7 224.7 1466.3 223.4 1473.0 222.0C1479.7 220.6 1486.3 218.9 1493.0 217.1C1499.7 215.3 1506.3 213.3 1513.0 211.2C1519.7 209.1 1526.3 206.8 1533.0 204.5C1539.7 202.1 1546.3 199.6 1553.0 197.1C1559.7 194.5 1566.3 191.9 1573.0 189.2C1579.7 186.5 1586.3 183.7 1593.0 181.0C1599.7 178.2 1606.3 175.4 1613.0 172.5C1619.7 169.7 1629.7 165.4 1633.0 164.0"/>
</g>
<g fill="none" stroke="#6c5319" stroke-width="2.5">
<circle cx="-87.5" cy="455.6" r="304.4" stroke-opacity="0.45"/>
<circle cx="-87.5" cy="455.6" r="299.1" stroke-opacity="0.65"/>
<circle cx="-87.5" cy="455.6" r="293.8" stroke-opacity="0.85"/>
<circle cx="-87.5" cy="455.6" r="288.5" stroke-opacity="1.00"/>
<circle cx="-87.5" cy="455.6" r="283.2" stroke-opacity="1.00"/>
<circle cx="-87.5" cy="455.6" r="277.9" stroke-opacity="1.00"/>
<circle cx="-87.5" cy="455.6" r="272.6" stroke-opacity="1.00"/>
<circle cx="-87.5" cy="455.6" r="267.3" stroke-opacity="1.00"/>
<circle cx="-87.5" cy="455.6" r="262.0" stroke-opacity="1.00"/>
<circle cx="-87.5" cy="455.6" r="256.7" stroke-opacity="1.00"/>
<circle cx="-87.5" cy="455.6" r="251.4" stroke-opacity="1.00"/>
<circle cx="-87.5" cy="455.6" r="246.1" stroke-opacity="1.00"/>
<circle cx="-87.5" cy="455.6" r="240.8" stroke-opacity="1.00"/>
<circle cx="-87.5" cy="455.6" r="235.5" stroke-opacity="1.00"/>
<circle cx="-87.5" cy="455.6" r="230.2" stroke-opacity="1.00"/>
<circle cx="-87.5" cy="455.6" r="224.9" stroke-opacity="1.00"/>
<circle cx="-87.5" cy="455.6" r="219.6" stroke-opacity="1.00"/>
<circle cx="-87.5" cy="455.6" r="214.3" stroke-opacity="1.00"/>
<circle cx="-87.5" cy="455.6" r="209.0" stroke-opacity="1.00"/>
<circle cx="-87.5" cy="455.6" r="203.7" stroke-opacity="1.00"/>
<circle cx="-87.5" cy="455.6" r="198.4" stroke-opacity="1.00"/>
<circle cx="-87.5" cy="455.6" r="193.1" stroke-opacity="1.00"/>
<circle cx="-87.5" cy="455.6" r="187.8" stroke-opacity="1.00"/>
<circle cx="-87.5" cy="455.6" r="182.5" stroke-opacity="1.00"/>
<circle cx="-87.5" cy="455.6" r="177.2" stroke-opacity="1.00"/>
<circle cx="-87.5" cy="455.6" r="171.9" stroke-opacity="1.00"/>
<circle cx="-87.5" cy="455.6" r="166.6" stroke-opacity="1.00"/>
<circle cx="-87.5" cy="455.6" r="161.3" stroke-opacity="1.00"/>
<circle cx="-87.5" cy="455.6" r="156.0" stroke-opacity="1.00"/>
<circle cx="-87.5" cy="455.6" r="150.7" stroke-opacity="1.00"/>
</g>
</svg>
<div class="edge"></div>
</div>

<!-- Back chevron -->
<svg class="abs" style="left:30px;top:46px;z-index:3" width="14" height="18" viewBox="0 0 14 18"><path d="M10.5 2.2 L3.2 9.2 L10.5 16.3" fill="none" stroke="#b7bdc6" stroke-width="1.7"/></svg>

<!-- User guide pill -->
<div class="abs" style="left:1400px;top:113px;width:111px;height:28.5px;border-radius:14.3px;background:#29291f;z-index:5"></div>
<div class="abs" style="left:1389.6px;top:108px;width:39px;height:39px;border-radius:50%;background:#29291f;z-index:5"></div>
<svg class="abs" style="left:1397px;top:115px;z-index:6" width="24" height="24" viewBox="0 0 24 24">
<path d="M3 4.2 H8.6 Q11.5 4.2 11.5 7 V19.3 Q11 17.6 8.4 17.6 H3 Z M20.6 4.2 H15 Q12.1 4.2 12.1 7 V19.3 Q12.6 17.6 15.2 17.6 H20.6 Z" fill="none" stroke="#e6e6e6" stroke-width="1.6" stroke-linejoin="round"/>
</svg>

<div id="card1" class="card"></div>
<div class="op" style="left:325px;top:265px"><svg width="30" height="30"><path d="M9.3 10.6H20.6M9.3 15.6H20.6" stroke="#bfc4cb" stroke-width="2"/></svg></div>
<div class="op" style="left:626px;top:265px"><svg width="30" height="30"><path d="M9 13H21.4M15.2 6.6V19.3" stroke="#bfc4cb" stroke-width="1.8"/></svg></div>
<div class="op" style="left:900px;top:264.5px"><svg width="30" height="30"><path d="M9 13H21.4M15.2 6.6V19.3" stroke="#bfc4cb" stroke-width="1.8"/></svg></div>
<div class="dash" style="left:232.6px;top:380px;width:46px"></div>
<div class="dash" style="left:505.7px;top:380px;width:46px"></div>

<!-- tab underline -->
<div class="abs" style="left:347.9px;top:502px;width:68.5px;height:2.2px;border-radius:1.1px;background:#f3b125;z-index:3"></div>

<div id="card2" class="card"></div>
<div class="abs" style="left:61.2px;top:540.9px;width:49.5px;height:49.5px;border-radius:8.5px;background:#f4f5f7;z-index:2"></div>
<svg class="abs" style="left:76px;top:558px;z-index:3" width="20" height="18" viewBox="0 0 20 18"><path d="M17.1 8.7H4.2M10.5 2.4L4.2 8.7L10.5 15" fill="none" stroke="#8e9299" stroke-width="1.9"/></svg>
<div class="tag" style="left:232.8px;top:542.8px;width:70.2px;height:23.7px"></div>
<!-- edit icon -->
<svg class="abs" style="left:1168px;top:573px;z-index:3" width="21" height="21" viewBox="0 0 21 21"><path d="M9.5 2.5H3.2Q2 2.5 2 3.7V17.8Q2 19 3.2 19H17.3Q18.5 19 18.5 17.8V11.5" fill="none" stroke="#c5c9d0" stroke-width="1.5"/><path d="M16.3 1.9L19.1 4.7L10.6 13.2L7.2 14L8 10.6Z" fill="none" stroke="#c5c9d0" stroke-width="1.5" stroke-linejoin="round"/></svg>
<!-- avatar -->
<div class="abs" style="left:1387px;top:553.5px;width:24.5px;height:24.5px;border-radius:50%;background:#d3f3cc;z-index:2"></div>
<svg class="abs" style="left:1387px;top:553.5px;z-index:3" width="25" height="25" viewBox="0 0 25 25">
<path d="M12.0 3.4 L15.3 9.1 L21.7 10.4 L17.3 15.3 L18.0 21.9 L12.0 19.2 L6.0 21.9 L6.7 15.3 L2.3 10.4 L8.7 9.1Z" fill="#85e07c"/>
<path d="M9.3 19.6Q12 16.4 14.7 19.6L13.6 21.8H10.4Z" fill="#f2e39a"/>
<path d="M10.6 6.2L12.3 3.1L13 6.4M2.6 10.4L6.4 9.9M17.6 9.9L21.4 10.4M4.5 9.2L6.2 7.9M19.5 9.2L17.8 7.9" stroke="#6e1a12" stroke-width="1.2" fill="none"/>
<circle cx="9.6" cy="15.2" r="0.8" fill="#6e1a12"/><circle cx="14.4" cy="15.2" r="0.8" fill="#6e1a12"/>
<circle cx="6.8" cy="20.6" r="0.7" fill="#6e1a12"/><circle cx="17.2" cy="20.6" r="0.7" fill="#6e1a12"/>
<path d="M10.8 21.6H13.2" stroke="#6e1a12" stroke-width="0.9"/>
<path d="M7.5 6.2L8.5 8M16.5 6.2L15.5 8" stroke="#f5e7a0" stroke-width="1.2"/>
</svg>

<!-- table -->
<div class="hl" style="left:62px;top:625.5px;width:1419px;"></div>
<div class="hl" style="left:62px;top:763.7px;width:1419px;"></div>
<div class="hl" style="left:1167px;top:683.5px;width:37px;background:#f2f3f5"></div>
<div class="dash" style="left:815.7px;top:730.5px;width:122px;background:repeating-linear-gradient(90deg,#bfc4cc 0 5px,transparent 5px 7.6px)"></div>
<div class="dash" style="left:815.7px;top:810.8px;width:122px;background:repeating-linear-gradient(90deg,#bfc4cc 0 5px,transparent 5px 7.6px)"></div>
<div class="tag" style="left:152.4px;top:702.4px;width:41.5px;height:20.5px"></div>
<div class="tag" style="left:152.4px;top:782.7px;width:41.5px;height:20.5px"></div>
<!-- sticky action column -->
<div class="abs" style="left:1204px;top:633.8px;width:276px;height:211px;background:#fff;z-index:5"></div>
<div class="abs" style="left:1192.5px;top:633.8px;width:11.5px;height:211px;background:linear-gradient(90deg,rgba(0,0,0,0),rgba(0,0,0,0.075));z-index:5"></div>
<div class="abs" style="left:1204px;top:763.7px;width:277px;height:1px;background:#eef0f4;z-index:5"></div>
<div class="abs" style="left:1408.5px;top:712px;width:1px;height:21px;background:#eceef2;z-index:6"></div>
<div class="abs" style="left:1408.5px;top:792.3px;width:1px;height:21px;background:#eceef2;z-index:6"></div>
<!-- scrollbar -->
<div class="abs" style="left:62px;top:844.2px;width:1419px;height:1.2px;background:#edf0f5;z-index:6"></div>
<div class="abs" style="left:61.8px;top:845.6px;width:1360px;height:9px;border-radius:4.5px;background:#dcdcdc;z-index:7"></div>

<div class="t" style="left:59.98px;top:45.20px;font-size:20px;font-weight:700;color:#b7bdc6;transform:scaleX(0.9205);">Back</div>
<div class="t" style="left:30.05px;top:95.60px;font-size:50.5px;font-weight:700;color:#ffffff;transform:scaleX(0.9496);">User Center (Follower)</div>
<div class="t" style="left:1429.90px;top:117.60px;font-size:14.5px;font-weight:700;color:#ffffff;transform:scaleX(0.9535);z-index:6;">User Guide</div>
<div class="t" style="left:61.50px;top:242.60px;font-size:17px;font-weight:400;color:#81858c;transform:scaleX(1.0262);">Total Equity</div>
<div class="t" style="left:61.69px;top:281.40px;font-size:41.5px;font-weight:700;color:#121214;transform:scaleX(1.0115);">2,541.34</div>
<div class="t" style="left:232.24px;top:301.60px;font-size:16.5px;font-weight:400;color:#121214;transform:scaleX(0.9649);-webkit-text-stroke:0.5px currentColor;">USDT</div>
<div class="t" style="left:404.80px;top:242.60px;font-size:17px;font-weight:400;color:#adb1b8;transform:scaleX(1.0135);">Available Balance</div>
<div class="t" style="left:403.72px;top:291.60px;font-size:29.5px;font-weight:700;color:#121214;transform:scaleX(1.0818);">2,171.27</div>
<div class="t" style="left:533.85px;top:302.60px;font-size:16.5px;font-weight:400;color:#121214;transform:scaleX(0.9490);-webkit-text-stroke:0.5px currentColor;">USDT</div>
<div class="t" style="left:704.89px;top:242.60px;font-size:17px;font-weight:400;color:#adb1b8;transform:scaleX(1.0097);">Margin Balance</div>
<div class="t" style="left:705.90px;top:291.60px;font-size:29.5px;font-weight:700;color:#121214;transform:scaleX(1.0755);">364.42</div>
<div class="t" style="left:808.25px;top:302.60px;font-size:16.5px;font-weight:400;color:#121214;transform:scaleX(0.9535);-webkit-text-stroke:0.5px currentColor;">USDT</div>
<div class="t" style="left:979.51px;top:242.60px;font-size:17px;font-weight:400;color:#adb1b8;transform:scaleX(0.9943);">Unrealized P&amp;L</div>
<div class="t" style="left:980.50px;top:291.60px;font-size:29.5px;font-weight:700;color:#20b26c;transform:scaleX(1.0612);">5.63</div>
<div class="t" style="left:1047.26px;top:302.60px;font-size:16.5px;font-weight:400;color:#20b26c;transform:scaleX(0.9353);-webkit-text-stroke:0.5px currentColor;">USDT</div>
<div class="t" style="left:61.50px;top:358.30px;font-size:17px;font-weight:400;color:#81858c;transform:scaleX(0.9957);">Realized Profit Share</div>
<div class="t" style="left:232.60px;top:358.30px;font-size:17px;font-weight:700;color:#121214;transform:scaleX(1.0906);">67.20</div>
<div class="t" style="left:317.89px;top:358.30px;font-size:17px;font-weight:400;color:#81858c;transform:scaleX(1.0103);">Unrealized Profit Share</div>
<div class="t" style="left:505.70px;top:358.30px;font-size:17px;font-weight:700;color:#121214;transform:scaleX(1.0906);">31.58</div>
<div class="t" style="left:30.00px;top:462.60px;font-size:21.2px;font-weight:700;color:#81858c;transform:scaleX(0.9952);">Dashboard</div>
<div class="t" style="left:173.50px;top:462.60px;font-size:21.2px;font-weight:700;color:#81858c;">Master Trader</div>
<div class="t" style="left:348.50px;top:462.60px;font-size:21.2px;font-weight:700;color:#121214;transform:scaleX(0.9804);">Trades</div>
<div class="t" style="left:450.04px;top:462.60px;font-size:21.2px;font-weight:700;color:#81858c;transform:scaleX(0.9603);">Bots</div>
<div class="t" style="left:130.91px;top:542.20px;font-size:20.3px;font-weight:700;color:#121214;transform:scaleX(0.9865);">BTCUSDT</div>
<div class="t" style="left:237.42px;top:548.00px;font-size:13.5px;font-weight:400;color:#20b26c;transform:scaleX(1.0821);">Long 10x</div>
<div class="t" style="left:332.65px;top:544.30px;font-size:14px;font-weight:400;color:#adb1b8;transform:scaleX(1.0530);">Unrealized P&amp;L</div>
<div class="t" style="left:441.27px;top:544.30px;font-size:14px;font-weight:400;color:#20b26c;transform:scaleX(1.1322);-webkit-text-stroke:0.5px currentColor;">1.0287(+11.77%)</div>
<div class="t" style="left:131.30px;top:577.00px;font-size:14.2px;font-weight:400;color:#adb1b8;transform:scaleX(1.0272);">Order Qty</div>
<div class="t" style="left:205.70px;top:577.00px;font-size:14.2px;font-weight:400;color:#121214;transform:scaleX(1.0270);-webkit-text-stroke:0.5px currentColor;">0.002 BTC</div>
<div class="t" style="left:309.32px;top:577.00px;font-size:14.2px;font-weight:400;color:#adb1b8;transform:scaleX(1.0793);">Position Margin</div>
<div class="t" style="left:422.90px;top:577.00px;font-size:14.2px;font-weight:400;color:#121214;transform:scaleX(1.0858);-webkit-text-stroke:0.5px currentColor;">8.73</div>
<div class="t" style="left:491.23px;top:577.00px;font-size:14.2px;font-weight:400;color:#adb1b8;transform:scaleX(1.0659);">Entry Price</div>
<div class="t" style="left:574.40px;top:577.00px;font-size:14.2px;font-weight:400;color:#121214;transform:scaleX(1.1135);-webkit-text-stroke:0.5px currentColor;">43,477.35</div>
<div class="t" style="left:678.62px;top:577.00px;font-size:14.2px;font-weight:400;color:#adb1b8;transform:scaleX(1.0783);">Market Price</div>
<div class="t" style="left:773.70px;top:577.00px;font-size:14.2px;font-weight:400;color:#121214;transform:scaleX(1.1119);-webkit-text-stroke:0.5px currentColor;">43,991.70</div>
<div class="t" style="left:877.43px;top:577.00px;font-size:14.2px;font-weight:400;color:#adb1b8;transform:scaleX(1.0678);">Liq. Price</div>
<div class="t" style="left:946.20px;top:577.00px;font-size:14.2px;font-weight:400;color:#f6ab06;transform:scaleX(1.1198);-webkit-text-stroke:0.5px currentColor;">39,347.10</div>
<div class="t" style="left:1051.00px;top:577.00px;font-size:14.2px;font-weight:400;color:#adb1b8;transform:scaleX(1.0606);">Set Trailing Stop</div>
<div class="t" style="left:1417.00px;top:558.30px;font-size:14.3px;font-weight:400;color:#121214;transform:scaleX(1.0267);-webkit-text-stroke:0.5px currentColor;">Susanna</div>
<div class="t" style="left:81.31px;top:653.70px;font-size:13.8px;font-weight:400;color:#adb1b8;transform:scaleX(1.0877);">Positions(2)</div>
<div class="t" style="left:247.80px;top:653.70px;font-size:13.8px;font-weight:400;color:#adb1b8;transform:scaleX(1.0295);">Qty</div>
<div class="t" style="left:345.90px;top:653.70px;font-size:13.8px;font-weight:400;color:#adb1b8;transform:scaleX(1.0501);">Opened On</div>
<div class="t" style="left:542.63px;top:653.70px;font-size:13.8px;font-weight:400;color:#adb1b8;transform:scaleX(1.0734);">Entry Price</div>
<div class="t" style="left:699.73px;top:653.70px;font-size:13.8px;font-weight:400;color:#adb1b8;transform:scaleX(1.0722);">Market Price</div>
<div class="t" style="left:815.84px;top:653.70px;font-size:13.8px;font-weight:400;color:#adb1b8;transform:scaleX(1.0579);">Unrealized P&amp;L</div>
<div class="t" style="left:986.34px;top:653.70px;font-size:13.8px;font-weight:400;color:#adb1b8;transform:scaleX(1.0595);">Fees to Open</div>
<div class="t" style="left:1167.30px;top:653.70px;font-size:13.8px;font-weight:400;color:#adb1b8;">Order ID</div>
<div class="t" style="left:82.40px;top:705.80px;font-size:13.3px;font-weight:700;color:#121214;transform:scaleX(0.9952);">BTCUSDT</div>
<div class="t" style="left:156.69px;top:706.10px;font-size:13.3px;font-weight:400;color:#20b26c;transform:scaleX(1.1070);">Long</div>
<div class="t" style="left:81.29px;top:728.00px;font-size:14.2px;font-weight:400;color:#f6ab06;transform:scaleX(1.1142);-webkit-text-stroke:0.5px currentColor;">Isolated 10.00x</div>
<div class="t" style="left:248.00px;top:716.20px;font-size:14.2px;font-weight:400;color:#121214;transform:scaleX(1.0255);-webkit-text-stroke:0.5px currentColor;">0.001 BTC</div>
<div class="t" style="left:346.40px;top:716.20px;font-size:14.2px;font-weight:400;color:#121214;transform:scaleX(1.1187);-webkit-text-stroke:0.5px currentColor;">2023-12-06 17:56:53</div>
<div class="t" style="left:544.40px;top:716.20px;font-size:14.2px;font-weight:400;color:#121214;transform:scaleX(1.0357);-webkit-text-stroke:0.5px currentColor;">43,477.35 USDT</div>
<div class="t" style="left:700.50px;top:716.20px;font-size:14.2px;font-weight:400;color:#121214;transform:scaleX(1.0992);-webkit-text-stroke:0.5px currentColor;">43,991.70</div>
<div class="t" style="left:816.90px;top:716.20px;font-size:14.2px;font-weight:400;color:#20b26c;transform:scaleX(1.1241);-webkit-text-stroke:0.5px currentColor;">0.5143(+11.83%)</div>
<div class="t" style="left:987.40px;top:716.20px;font-size:14.2px;font-weight:400;color:#121214;transform:scaleX(1.0522);-webkit-text-stroke:0.5px currentColor;">0.02416409 USDT</div>
<div class="t" style="left:1167.60px;top:716.20px;font-size:14.2px;font-weight:400;color:#121214;-webkit-text-stroke:0.5px currentColor;letter-spacing:0.8px;">6d96a2f1</div>
<div class="t" style="left:1327.00px;top:716.20px;font-size:14.2px;font-weight:400;color:#81858c;transform:scaleX(1.0190);-webkit-text-stroke:0.5px currentColor;z-index:6;">Set TP/SL</div>
<div class="t" style="left:1423.40px;top:716.20px;font-size:14.2px;font-weight:400;color:#f6ab06;transform:scaleX(1.0197);-webkit-text-stroke:0.5px currentColor;z-index:6;">Close</div>
<div class="t" style="left:82.40px;top:786.10px;font-size:13.3px;font-weight:700;color:#121214;transform:scaleX(0.9952);">BTCUSDT</div>
<div class="t" style="left:156.69px;top:786.40px;font-size:13.3px;font-weight:400;color:#20b26c;transform:scaleX(1.1070);">Long</div>
<div class="t" style="left:81.29px;top:808.30px;font-size:14.2px;font-weight:400;color:#f6ab06;transform:scaleX(1.1142);-webkit-text-stroke:0.5px currentColor;">Isolated 10.00x</div>
<div class="t" style="left:248.00px;top:796.50px;font-size:14.2px;font-weight:400;color:#121214;transform:scaleX(1.0255);-webkit-text-stroke:0.5px currentColor;">0.001 BTC</div>
<div class="t" style="left:346.40px;top:796.50px;font-size:14.2px;font-weight:400;color:#121214;transform:scaleX(1.1187);-webkit-text-stroke:0.5px currentColor;">2023-12-06 17:54:29</div>
<div class="t" style="left:544.40px;top:796.50px;font-size:14.2px;font-weight:400;color:#121214;transform:scaleX(1.0357);-webkit-text-stroke:0.5px currentColor;">43,477.35 USDT</div>
<div class="t" style="left:700.50px;top:796.50px;font-size:14.2px;font-weight:400;color:#121214;transform:scaleX(1.0992);-webkit-text-stroke:0.5px currentColor;">43,991.70</div>
<div class="t" style="left:816.90px;top:796.50px;font-size:14.2px;font-weight:400;color:#20b26c;transform:scaleX(1.1241);-webkit-text-stroke:0.5px currentColor;">0.5143(+11.83%)</div>
<div class="t" style="left:987.40px;top:796.50px;font-size:14.2px;font-weight:400;color:#121214;transform:scaleX(1.0522);-webkit-text-stroke:0.5px currentColor;">0.02366100 USDT</div>
<div class="t" style="left:1167.60px;top:796.50px;font-size:14.2px;font-weight:400;color:#121214;-webkit-text-stroke:0.5px currentColor;letter-spacing:0.8px;">4573b9c0</div>
<div class="t" style="left:1327.00px;top:796.50px;font-size:14.2px;font-weight:400;color:#81858c;transform:scaleX(1.0190);-webkit-text-stroke:0.5px currentColor;z-index:6;">Set TP/SL</div>
<div class="t" style="left:1423.40px;top:796.50px;font-size:14.2px;font-weight:400;color:#f6ab06;transform:scaleX(1.0197);-webkit-text-stroke:0.5px currentColor;z-index:6;">Close</div>
<div class="t" style="left:1418.90px;top:653.70px;font-size:13.8px;font-weight:400;color:#adb1b8;transform:scaleX(1.1043);z-index:6;">Action</div>
</body></html>
